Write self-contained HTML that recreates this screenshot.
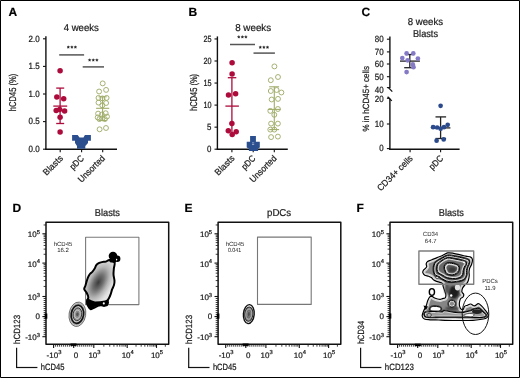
<!DOCTYPE html><html><head><meta charset="utf-8"><title>Figure</title><style>html,body{margin:0;padding:0;background:#fff;overflow:hidden;}svg{display:block;will-change:transform;} text{stroke:#1a1a1a;stroke-width:0.22px;}</style></head><body>
<svg width="520" height="378" viewBox="0 0 520 378" font-family='"Liberation Sans", sans-serif' text-rendering="geometricPrecision" stroke-linejoin="round">
<rect x="0" y="0" width="520" height="378" fill="#fff"/>
<rect x="0.5" y="0.5" width="519" height="377" fill="none" stroke="#000" stroke-width="1"/>
<text x="8.6" y="15.9" font-size="12" text-anchor="start" font-weight="bold" fill="#000" >A</text>
<text x="188.5" y="16.4" font-size="12" text-anchor="start" font-weight="bold" fill="#000" >B</text>
<text x="361.4" y="16.4" font-size="12" text-anchor="start" font-weight="bold" fill="#000" >C</text>
<text x="12.6" y="211.7" font-size="12" text-anchor="start" font-weight="bold" fill="#000" >D</text>
<text x="184.5" y="211.7" font-size="12" text-anchor="start" font-weight="bold" fill="#000" >E</text>
<text x="356.6" y="211.7" font-size="12" text-anchor="start" font-weight="bold" fill="#000" >F</text>
<text x="63.7" y="31.0" font-size="10" text-anchor="start" font-weight="normal" fill="#1a1a1a" textLength="35.2" lengthAdjust="spacingAndGlyphs" >4 weeks</text>
<line x1="45.9" y1="36.3" x2="45.9" y2="149.79999999999998" stroke="#111" stroke-width="1.4"/>
<line x1="45.199999999999996" y1="149.2" x2="117" y2="149.2" stroke="#111" stroke-width="1.4"/>
<line x1="43" y1="149.2" x2="45.9" y2="149.2" stroke="#111" stroke-width="1.1"/>
<text x="39.7" y="152.0" font-size="9" text-anchor="end" font-weight="normal" fill="#1a1a1a" textLength="11.1" lengthAdjust="spacingAndGlyphs" >0.0</text>
<line x1="43" y1="121.6" x2="45.9" y2="121.6" stroke="#111" stroke-width="1.1"/>
<text x="39.7" y="124.39999999999999" font-size="9" text-anchor="end" font-weight="normal" fill="#1a1a1a" textLength="11.1" lengthAdjust="spacingAndGlyphs" >0.5</text>
<line x1="43" y1="93.99999999999999" x2="45.9" y2="93.99999999999999" stroke="#111" stroke-width="1.1"/>
<text x="39.7" y="96.79999999999998" font-size="9" text-anchor="end" font-weight="normal" fill="#1a1a1a" textLength="11.1" lengthAdjust="spacingAndGlyphs" >1.0</text>
<line x1="43" y1="66.39999999999998" x2="45.9" y2="66.39999999999998" stroke="#111" stroke-width="1.1"/>
<text x="39.7" y="69.19999999999997" font-size="9" text-anchor="end" font-weight="normal" fill="#1a1a1a" textLength="11.1" lengthAdjust="spacingAndGlyphs" >1.5</text>
<line x1="43" y1="38.79999999999998" x2="45.9" y2="38.79999999999998" stroke="#111" stroke-width="1.1"/>
<text x="39.7" y="41.59999999999998" font-size="9" text-anchor="end" font-weight="normal" fill="#1a1a1a" textLength="11.1" lengthAdjust="spacingAndGlyphs" >2.0</text>
<line x1="60.2" y1="149.2" x2="60.2" y2="152.3" stroke="#111" stroke-width="1.1"/>
<line x1="81.6" y1="149.2" x2="81.6" y2="152.3" stroke="#111" stroke-width="1.1"/>
<line x1="102.7" y1="149.2" x2="102.7" y2="152.3" stroke="#111" stroke-width="1.1"/>
<text transform="translate(16.0,92.4) rotate(-90)" font-size="10" text-anchor="middle" fill="#1a1a1a" textLength="37.5" lengthAdjust="spacingAndGlyphs">hCD45 (%)</text>
<text transform="translate(63.5,159.0) rotate(-45)" font-size="9" text-anchor="end" fill="#1a1a1a" textLength="24" lengthAdjust="spacingAndGlyphs">Blasts</text>
<text transform="translate(84.5,159.0) rotate(-45)" font-size="9" text-anchor="end" fill="#1a1a1a" textLength="16" lengthAdjust="spacingAndGlyphs">pDC</text>
<text transform="translate(105.5,159.0) rotate(-45)" font-size="9" text-anchor="end" fill="#1a1a1a" textLength="34" lengthAdjust="spacingAndGlyphs">Unsorted</text>
<line x1="59.2" y1="54.9" x2="84.1" y2="54.9" stroke="#555" stroke-width="1.5"/>
<line x1="82.7" y1="66.9" x2="104" y2="66.9" stroke="#555" stroke-width="1.5"/>
<polygon points="68.30,45.75 68.71,46.58 69.63,46.72 68.97,47.37 69.12,48.28 68.30,47.85 67.48,48.28 67.63,47.37 66.97,46.72 67.89,46.58" fill="#1a1a1a" stroke="#1a1a1a" stroke-width="0.35" stroke-linejoin="round"/>
<polygon points="71.90,45.75 72.31,46.58 73.23,46.72 72.57,47.37 72.72,48.28 71.90,47.85 71.08,48.28 71.23,47.37 70.57,46.72 71.49,46.58" fill="#1a1a1a" stroke="#1a1a1a" stroke-width="0.35" stroke-linejoin="round"/>
<polygon points="75.40,45.75 75.81,46.58 76.73,46.72 76.07,47.37 76.22,48.28 75.40,47.85 74.58,48.28 74.73,47.37 74.07,46.72 74.99,46.58" fill="#1a1a1a" stroke="#1a1a1a" stroke-width="0.35" stroke-linejoin="round"/>
<polygon points="89.60,58.65 90.01,59.48 90.93,59.62 90.27,60.27 90.42,61.18 89.60,60.75 88.78,61.18 88.93,60.27 88.27,59.62 89.19,59.48" fill="#1a1a1a" stroke="#1a1a1a" stroke-width="0.35" stroke-linejoin="round"/>
<polygon points="93.30,58.65 93.71,59.48 94.63,59.62 93.97,60.27 94.12,61.18 93.30,60.75 92.48,61.18 92.63,60.27 91.97,59.62 92.89,59.48" fill="#1a1a1a" stroke="#1a1a1a" stroke-width="0.35" stroke-linejoin="round"/>
<polygon points="96.90,58.65 97.31,59.48 98.23,59.62 97.57,60.27 97.72,61.18 96.90,60.75 96.08,61.18 96.23,60.27 95.57,59.62 96.49,59.48" fill="#1a1a1a" stroke="#1a1a1a" stroke-width="0.35" stroke-linejoin="round"/>
<line x1="60.1" y1="88.1" x2="60.1" y2="123.5" stroke="#ad0b3b" stroke-width="1.3"/>
<line x1="56.2" y1="88.1" x2="64.2" y2="88.1" stroke="#ad0b3b" stroke-width="1.3"/>
<line x1="56.2" y1="123.5" x2="64.2" y2="123.5" stroke="#ad0b3b" stroke-width="1.3"/>
<line x1="53.3" y1="106.1" x2="67.2" y2="106.1" stroke="#ad0b3b" stroke-width="1.3"/>
<circle cx="60.1" cy="70.8" r="2.75" fill="#ad0b3b"/>
<circle cx="56.8" cy="96.9" r="2.75" fill="#ad0b3b"/>
<circle cx="63.7" cy="98.8" r="2.75" fill="#ad0b3b"/>
<circle cx="56.2" cy="110.6" r="2.75" fill="#ad0b3b"/>
<circle cx="59.7" cy="109.4" r="2.75" fill="#ad0b3b"/>
<circle cx="64.6" cy="111" r="2.75" fill="#ad0b3b"/>
<circle cx="60.1" cy="117.2" r="2.75" fill="#ad0b3b"/>
<circle cx="60.1" cy="132.1" r="2.75" fill="#ad0b3b"/>
<path d="M72.1,134.9 L77.7,134.9 L79.5,137.6 L83.5,137.6 L84.9,134.9 L90.9,134.9 L90.9,140.7 L88,140.7 L88,143 L85.3,146 L85.3,148.8 L77,148.8 L77,146 L75,143 L75,140.7 L72.1,140.7 Z" fill="#2b4e8e"/>
<line x1="102.6" y1="96.8" x2="102.6" y2="120.5" stroke="#a0ad6a" stroke-width="1.1"/>
<line x1="98.5" y1="96.8" x2="106.7" y2="96.8" stroke="#a0ad6a" stroke-width="1.1"/>
<line x1="98.5" y1="120.5" x2="106.7" y2="120.5" stroke="#a0ad6a" stroke-width="1.1"/>
<line x1="96.1" y1="108.3" x2="109.2" y2="108.3" stroke="#a0ad6a" stroke-width="1.1"/>
<circle cx="102.7" cy="83.4" r="2.45" fill="none" stroke="#a0ad6a" stroke-width="0.95"/>
<circle cx="106.1" cy="89.9" r="2.45" fill="none" stroke="#a0ad6a" stroke-width="0.95"/>
<circle cx="99.1" cy="91.5" r="2.45" fill="none" stroke="#a0ad6a" stroke-width="0.95"/>
<circle cx="98.5" cy="97.9" r="2.45" fill="none" stroke="#a0ad6a" stroke-width="0.95"/>
<circle cx="102.4" cy="98.4" r="2.45" fill="none" stroke="#a0ad6a" stroke-width="0.95"/>
<circle cx="106.6" cy="97.9" r="2.45" fill="none" stroke="#a0ad6a" stroke-width="0.95"/>
<circle cx="98.5" cy="102.6" r="2.45" fill="none" stroke="#a0ad6a" stroke-width="0.95"/>
<circle cx="106.1" cy="103" r="2.45" fill="none" stroke="#a0ad6a" stroke-width="0.95"/>
<circle cx="102.3" cy="105.4" r="2.45" fill="none" stroke="#a0ad6a" stroke-width="0.95"/>
<circle cx="98.1" cy="113.6" r="2.45" fill="none" stroke="#a0ad6a" stroke-width="0.95"/>
<circle cx="101.9" cy="114.5" r="2.45" fill="none" stroke="#a0ad6a" stroke-width="0.95"/>
<circle cx="105.7" cy="113.2" r="2.45" fill="none" stroke="#a0ad6a" stroke-width="0.95"/>
<circle cx="97.7" cy="117.4" r="2.45" fill="none" stroke="#a0ad6a" stroke-width="0.95"/>
<circle cx="107" cy="116.6" r="2.45" fill="none" stroke="#a0ad6a" stroke-width="0.95"/>
<circle cx="102.3" cy="118.3" r="2.45" fill="none" stroke="#a0ad6a" stroke-width="0.95"/>
<circle cx="99.4" cy="119.1" r="2.45" fill="none" stroke="#a0ad6a" stroke-width="0.95"/>
<circle cx="104.9" cy="119.1" r="2.45" fill="none" stroke="#a0ad6a" stroke-width="0.95"/>
<circle cx="99.6" cy="129.3" r="2.45" fill="none" stroke="#a0ad6a" stroke-width="0.95"/>
<circle cx="106" cy="128" r="2.45" fill="none" stroke="#a0ad6a" stroke-width="0.95"/>
<text x="235.2" y="30.9" font-size="10" text-anchor="start" font-weight="normal" fill="#1a1a1a" textLength="36.0" lengthAdjust="spacingAndGlyphs" >8 weeks</text>
<line x1="217.4" y1="36.4" x2="217.4" y2="149.79999999999998" stroke="#111" stroke-width="1.4"/>
<line x1="216.70000000000002" y1="149.2" x2="287.8" y2="149.2" stroke="#111" stroke-width="1.4"/>
<line x1="214.5" y1="149.2" x2="217.4" y2="149.2" stroke="#111" stroke-width="1.1"/>
<text x="211.5" y="152.0" font-size="9" text-anchor="end" font-weight="normal" fill="#1a1a1a" textLength="4.4" lengthAdjust="spacingAndGlyphs" >0</text>
<line x1="214.5" y1="127.14999999999999" x2="217.4" y2="127.14999999999999" stroke="#111" stroke-width="1.1"/>
<text x="211.5" y="129.95" font-size="9" text-anchor="end" font-weight="normal" fill="#1a1a1a" textLength="4.4" lengthAdjust="spacingAndGlyphs" >5</text>
<line x1="214.5" y1="105.1" x2="217.4" y2="105.1" stroke="#111" stroke-width="1.1"/>
<text x="211.5" y="107.89999999999999" font-size="9" text-anchor="end" font-weight="normal" fill="#1a1a1a" textLength="8.1" lengthAdjust="spacingAndGlyphs" >10</text>
<line x1="214.5" y1="83.04999999999998" x2="217.4" y2="83.04999999999998" stroke="#111" stroke-width="1.1"/>
<text x="211.5" y="85.84999999999998" font-size="9" text-anchor="end" font-weight="normal" fill="#1a1a1a" textLength="8.1" lengthAdjust="spacingAndGlyphs" >15</text>
<line x1="214.5" y1="60.999999999999986" x2="217.4" y2="60.999999999999986" stroke="#111" stroke-width="1.1"/>
<text x="211.5" y="63.79999999999998" font-size="9" text-anchor="end" font-weight="normal" fill="#1a1a1a" textLength="8.1" lengthAdjust="spacingAndGlyphs" >20</text>
<line x1="214.5" y1="38.94999999999999" x2="217.4" y2="38.94999999999999" stroke="#111" stroke-width="1.1"/>
<text x="211.5" y="41.749999999999986" font-size="9" text-anchor="end" font-weight="normal" fill="#1a1a1a" textLength="8.1" lengthAdjust="spacingAndGlyphs" >25</text>
<line x1="231.9" y1="149.2" x2="231.9" y2="152.3" stroke="#111" stroke-width="1.1"/>
<line x1="253.2" y1="149.2" x2="253.2" y2="152.3" stroke="#111" stroke-width="1.1"/>
<line x1="274.3" y1="149.2" x2="274.3" y2="152.3" stroke="#111" stroke-width="1.1"/>
<text transform="translate(197.2,92.4) rotate(-90)" font-size="10" text-anchor="middle" fill="#1a1a1a" textLength="37.0" lengthAdjust="spacingAndGlyphs">hCD45 (%)</text>
<text transform="translate(235.2,159.0) rotate(-45)" font-size="9" text-anchor="end" fill="#1a1a1a" textLength="24" lengthAdjust="spacingAndGlyphs">Blasts</text>
<text transform="translate(256.2,159.0) rotate(-45)" font-size="9" text-anchor="end" fill="#1a1a1a" textLength="16" lengthAdjust="spacingAndGlyphs">pDC</text>
<text transform="translate(277.2,159.0) rotate(-45)" font-size="9" text-anchor="end" fill="#1a1a1a" textLength="34" lengthAdjust="spacingAndGlyphs">Unsorted</text>
<line x1="230" y1="44.5" x2="255" y2="44.5" stroke="#555" stroke-width="1.5"/>
<line x1="253.5" y1="53.1" x2="274.9" y2="53.1" stroke="#555" stroke-width="1.5"/>
<polygon points="238.80,35.55 239.21,36.38 240.13,36.52 239.47,37.17 239.62,38.08 238.80,37.65 237.98,38.08 238.13,37.17 237.47,36.52 238.39,36.38" fill="#1a1a1a" stroke="#1a1a1a" stroke-width="0.35" stroke-linejoin="round"/>
<polygon points="242.40,35.55 242.81,36.38 243.73,36.52 243.07,37.17 243.22,38.08 242.40,37.65 241.58,38.08 241.73,37.17 241.07,36.52 241.99,36.38" fill="#1a1a1a" stroke="#1a1a1a" stroke-width="0.35" stroke-linejoin="round"/>
<polygon points="245.90,35.55 246.31,36.38 247.23,36.52 246.57,37.17 246.72,38.08 245.90,37.65 245.08,38.08 245.23,37.17 244.57,36.52 245.49,36.38" fill="#1a1a1a" stroke="#1a1a1a" stroke-width="0.35" stroke-linejoin="round"/>
<polygon points="260.30,45.85 260.71,46.68 261.63,46.82 260.97,47.47 261.12,48.38 260.30,47.95 259.48,48.38 259.63,47.47 258.97,46.82 259.89,46.68" fill="#1a1a1a" stroke="#1a1a1a" stroke-width="0.35" stroke-linejoin="round"/>
<polygon points="263.90,45.85 264.31,46.68 265.23,46.82 264.57,47.47 264.72,48.38 263.90,47.95 263.08,48.38 263.23,47.47 262.57,46.82 263.49,46.68" fill="#1a1a1a" stroke="#1a1a1a" stroke-width="0.35" stroke-linejoin="round"/>
<polygon points="267.50,45.85 267.91,46.68 268.83,46.82 268.17,47.47 268.32,48.38 267.50,47.95 266.68,48.38 266.83,47.47 266.17,46.82 267.09,46.68" fill="#1a1a1a" stroke="#1a1a1a" stroke-width="0.35" stroke-linejoin="round"/>
<line x1="231.9" y1="77.7" x2="231.9" y2="134.5" stroke="#ad0b3b" stroke-width="1.3"/>
<line x1="227.8" y1="77.7" x2="236.3" y2="77.7" stroke="#ad0b3b" stroke-width="1.3"/>
<line x1="225.4" y1="106.1" x2="238.9" y2="106.1" stroke="#ad0b3b" stroke-width="1.3"/>
<circle cx="232.1" cy="62.8" r="2.75" fill="#ad0b3b"/>
<circle cx="232.1" cy="73.9" r="2.75" fill="#ad0b3b"/>
<circle cx="228.5" cy="95" r="2.75" fill="#ad0b3b"/>
<circle cx="235.6" cy="93.8" r="2.75" fill="#ad0b3b"/>
<circle cx="231.9" cy="123.6" r="2.75" fill="#ad0b3b"/>
<circle cx="228.3" cy="130.7" r="2.75" fill="#ad0b3b"/>
<circle cx="236.2" cy="131.8" r="2.75" fill="#ad0b3b"/>
<circle cx="232.2" cy="134.4" r="2.75" fill="#ad0b3b"/>
<path d="M250.1,136 L255.9,136 L255.9,141.8 L259.8,141.8 L259.8,147.6 L258.1,148.6 L258.1,150.9 L248.9,150.9 L248.9,148.6 L246.7,147.6 L246.7,141.8 L250.1,141.8 Z" fill="#2b4e8e"/>
<line x1="252" y1="142.9" x2="254.2" y2="142.9" stroke="#b8c4dc" stroke-width="0.7"/>
<line x1="252" y1="144.5" x2="254.2" y2="144.5" stroke="#b8c4dc" stroke-width="0.7"/>
<line x1="274.3" y1="86.8" x2="274.3" y2="129.6" stroke="#a0ad6a" stroke-width="1.1"/>
<line x1="269.2" y1="86.8" x2="279.1" y2="86.8" stroke="#a0ad6a" stroke-width="1.1"/>
<line x1="269.2" y1="129.6" x2="279.1" y2="129.6" stroke="#a0ad6a" stroke-width="1.1"/>
<line x1="267.9" y1="109.4" x2="280.6" y2="109.4" stroke="#a0ad6a" stroke-width="1.1"/>
<circle cx="274.4" cy="66.4" r="2.45" fill="none" stroke="#a0ad6a" stroke-width="0.95"/>
<circle cx="270.8" cy="80.2" r="2.45" fill="none" stroke="#a0ad6a" stroke-width="0.95"/>
<circle cx="278" cy="77" r="2.45" fill="none" stroke="#a0ad6a" stroke-width="0.95"/>
<circle cx="270.8" cy="91" r="2.45" fill="none" stroke="#a0ad6a" stroke-width="0.95"/>
<circle cx="276.6" cy="90" r="2.45" fill="none" stroke="#a0ad6a" stroke-width="0.95"/>
<circle cx="281.4" cy="92.5" r="2.45" fill="none" stroke="#a0ad6a" stroke-width="0.95"/>
<circle cx="271.7" cy="99.5" r="2.45" fill="none" stroke="#a0ad6a" stroke-width="0.95"/>
<circle cx="278" cy="98.9" r="2.45" fill="none" stroke="#a0ad6a" stroke-width="0.95"/>
<circle cx="270.3" cy="110.9" r="2.45" fill="none" stroke="#a0ad6a" stroke-width="0.95"/>
<circle cx="277.9" cy="109" r="2.45" fill="none" stroke="#a0ad6a" stroke-width="0.95"/>
<circle cx="274.3" cy="114.8" r="2.45" fill="none" stroke="#a0ad6a" stroke-width="0.95"/>
<circle cx="271.1" cy="123.6" r="2.45" fill="none" stroke="#a0ad6a" stroke-width="0.95"/>
<circle cx="277.9" cy="123.6" r="2.45" fill="none" stroke="#a0ad6a" stroke-width="0.95"/>
<circle cx="270.3" cy="129.6" r="2.45" fill="none" stroke="#a0ad6a" stroke-width="0.95"/>
<circle cx="274.3" cy="129.6" r="2.45" fill="none" stroke="#a0ad6a" stroke-width="0.95"/>
<circle cx="271.1" cy="137.1" r="2.45" fill="none" stroke="#a0ad6a" stroke-width="0.95"/>
<circle cx="277.9" cy="136.6" r="2.45" fill="none" stroke="#a0ad6a" stroke-width="0.95"/>
<text x="425.4" y="24.5" font-size="10" text-anchor="middle" font-weight="normal" fill="#1a1a1a" textLength="35.3" lengthAdjust="spacingAndGlyphs" >8 weeks</text>
<text x="425.5" y="36.6" font-size="10" text-anchor="middle" font-weight="normal" fill="#1a1a1a" textLength="25" lengthAdjust="spacingAndGlyphs" >Blasts</text>
<line x1="389.9" y1="36.4" x2="389.9" y2="88.2" stroke="#111" stroke-width="1.4"/>
<line x1="388.4" y1="87.6" x2="392.3" y2="91.6" stroke="#111" stroke-width="1.3"/>
<line x1="387.6" y1="96.7" x2="391.8" y2="100.9" stroke="#111" stroke-width="1.3"/>
<line x1="389.9" y1="98.6" x2="389.9" y2="149.79999999999998" stroke="#111" stroke-width="1.4"/>
<line x1="389.2" y1="149.2" x2="459.6" y2="149.2" stroke="#111" stroke-width="1.4"/>
<line x1="386.9" y1="39.2" x2="389.9" y2="39.2" stroke="#111" stroke-width="1.1"/>
<text x="383.7" y="42.0" font-size="9" text-anchor="end" font-weight="normal" fill="#1a1a1a" textLength="8.9" lengthAdjust="spacingAndGlyphs" >80</text>
<line x1="386.9" y1="51.9" x2="389.9" y2="51.9" stroke="#111" stroke-width="1.1"/>
<text x="383.7" y="54.7" font-size="9" text-anchor="end" font-weight="normal" fill="#1a1a1a" textLength="8.9" lengthAdjust="spacingAndGlyphs" >70</text>
<line x1="386.9" y1="64.0" x2="389.9" y2="64.0" stroke="#111" stroke-width="1.1"/>
<text x="383.7" y="66.8" font-size="9" text-anchor="end" font-weight="normal" fill="#1a1a1a" textLength="8.9" lengthAdjust="spacingAndGlyphs" >60</text>
<line x1="386.9" y1="76.7" x2="389.9" y2="76.7" stroke="#111" stroke-width="1.1"/>
<text x="383.7" y="79.5" font-size="9" text-anchor="end" font-weight="normal" fill="#1a1a1a" textLength="8.9" lengthAdjust="spacingAndGlyphs" >50</text>
<line x1="386.9" y1="87.6" x2="389.9" y2="87.6" stroke="#111" stroke-width="1.1"/>
<text x="383.7" y="92.6" font-size="9" text-anchor="end" font-weight="normal" fill="#1a1a1a" textLength="8.9" lengthAdjust="spacingAndGlyphs" >40</text>
<line x1="386.9" y1="98.3" x2="389.9" y2="98.3" stroke="#111" stroke-width="1.1"/>
<text x="383.7" y="102.0" font-size="9" text-anchor="end" font-weight="normal" fill="#1a1a1a" textLength="8.9" lengthAdjust="spacingAndGlyphs" >20</text>
<line x1="386.9" y1="124.0" x2="389.9" y2="124.0" stroke="#111" stroke-width="1.1"/>
<text x="383.7" y="126.8" font-size="9" text-anchor="end" font-weight="normal" fill="#1a1a1a" textLength="8.9" lengthAdjust="spacingAndGlyphs" >10</text>
<line x1="386.9" y1="148.6" x2="389.9" y2="148.6" stroke="#111" stroke-width="1.1"/>
<text x="383.7" y="151.4" font-size="9" text-anchor="end" font-weight="normal" fill="#1a1a1a" textLength="4.4" lengthAdjust="spacingAndGlyphs" >0</text>
<line x1="410.1" y1="149.2" x2="410.1" y2="152.3" stroke="#111" stroke-width="1.1"/>
<line x1="440.6" y1="149.2" x2="440.6" y2="152.3" stroke="#111" stroke-width="1.1"/>
<text transform="translate(369.2,98.7) rotate(-90)" font-size="9" text-anchor="middle" fill="#1a1a1a" textLength="65.5" lengthAdjust="spacingAndGlyphs">% in hCD45+ cells</text>
<text transform="translate(413.3,159.0) rotate(-45)" font-size="9" text-anchor="end" fill="#1a1a1a" textLength="46" lengthAdjust="spacingAndGlyphs">CD34+ cells</text>
<text transform="translate(443.8,159.0) rotate(-45)" font-size="9" text-anchor="end" fill="#1a1a1a" textLength="16" lengthAdjust="spacingAndGlyphs">pDC</text>
<line x1="409.8" y1="54.5" x2="409.8" y2="67.7" stroke="#222" stroke-width="1.3"/>
<line x1="405.5" y1="54.5" x2="414.0" y2="54.5" stroke="#222" stroke-width="1.3"/>
<line x1="404.2" y1="67.7" x2="414.4" y2="67.7" stroke="#222" stroke-width="1.3"/>
<line x1="400.0" y1="61.1" x2="419.9" y2="61.1" stroke="#222" stroke-width="1.3"/>
<circle cx="406.6" cy="53.4" r="2.35" fill="#857ac6"/>
<circle cx="413.3" cy="53.4" r="2.35" fill="#857ac6"/>
<circle cx="402.3" cy="58.1" r="2.35" fill="#857ac6"/>
<circle cx="417.9" cy="58.6" r="2.35" fill="#857ac6"/>
<circle cx="407.6" cy="60.3" r="2.35" fill="#857ac6"/>
<circle cx="412.8" cy="64.4" r="2.35" fill="#857ac6"/>
<circle cx="413.5" cy="67.2" r="2.35" fill="#857ac6"/>
<circle cx="406.6" cy="72.1" r="2.35" fill="#857ac6"/>
<line x1="440.6" y1="116.9" x2="440.6" y2="138.5" stroke="#222" stroke-width="1.3"/>
<line x1="435.5" y1="116.9" x2="446.1" y2="116.9" stroke="#222" stroke-width="1.3"/>
<line x1="435.5" y1="138.5" x2="446.1" y2="138.5" stroke="#222" stroke-width="1.3"/>
<line x1="431.8" y1="127.9" x2="450.4" y2="127.9" stroke="#222" stroke-width="1.3"/>
<circle cx="440.6" cy="105.8" r="2.35" fill="#2a4a8c"/>
<circle cx="433.1" cy="127.2" r="2.35" fill="#2a4a8c"/>
<circle cx="437.1" cy="127.5" r="2.35" fill="#2a4a8c"/>
<circle cx="440.6" cy="128.7" r="2.35" fill="#2a4a8c"/>
<circle cx="444" cy="127.2" r="2.35" fill="#2a4a8c"/>
<circle cx="447.7" cy="124.8" r="2.35" fill="#2a4a8c"/>
<circle cx="436.6" cy="140.7" r="2.35" fill="#2a4a8c"/>
<circle cx="443.7" cy="139.4" r="2.35" fill="#2a4a8c"/>
<rect x="46.0" y="222.2" width="122.7" height="122.10000000000002" fill="none" stroke="#111" stroke-width="1.5"/>
<text x="107.4" y="216.4" font-size="10" text-anchor="middle" font-weight="normal" fill="#1a1a1a" textLength="25.2" lengthAdjust="spacingAndGlyphs" >Blasts</text>
<line x1="55.61" y1="344.3" x2="55.61" y2="346.7" stroke="#1a1a1a" stroke-width="0.85"/>
<line x1="43.6" y1="334.69" x2="46.0" y2="334.69" stroke="#1a1a1a" stroke-width="0.85"/>
<line x1="57.620000000000005" y1="344.3" x2="57.620000000000005" y2="346.7" stroke="#1a1a1a" stroke-width="0.85"/>
<line x1="43.6" y1="332.68" x2="46.0" y2="332.68" stroke="#1a1a1a" stroke-width="0.85"/>
<line x1="59.629999999999995" y1="344.3" x2="59.629999999999995" y2="346.7" stroke="#1a1a1a" stroke-width="0.85"/>
<line x1="43.6" y1="330.67" x2="46.0" y2="330.67" stroke="#1a1a1a" stroke-width="0.85"/>
<line x1="61.64" y1="344.3" x2="61.64" y2="346.7" stroke="#1a1a1a" stroke-width="0.85"/>
<line x1="43.6" y1="328.66" x2="46.0" y2="328.66" stroke="#1a1a1a" stroke-width="0.85"/>
<line x1="63.65" y1="344.3" x2="63.65" y2="346.7" stroke="#1a1a1a" stroke-width="0.85"/>
<line x1="43.6" y1="326.65000000000003" x2="46.0" y2="326.65000000000003" stroke="#1a1a1a" stroke-width="0.85"/>
<line x1="65.66" y1="344.3" x2="65.66" y2="346.7" stroke="#1a1a1a" stroke-width="0.85"/>
<line x1="43.6" y1="324.64" x2="46.0" y2="324.64" stroke="#1a1a1a" stroke-width="0.85"/>
<line x1="67.67" y1="344.3" x2="67.67" y2="346.7" stroke="#1a1a1a" stroke-width="0.85"/>
<line x1="43.6" y1="322.63" x2="46.0" y2="322.63" stroke="#1a1a1a" stroke-width="0.85"/>
<line x1="69.68" y1="344.3" x2="69.68" y2="346.7" stroke="#1a1a1a" stroke-width="0.85"/>
<line x1="43.6" y1="320.62" x2="46.0" y2="320.62" stroke="#1a1a1a" stroke-width="0.85"/>
<line x1="71.69" y1="344.3" x2="71.69" y2="346.7" stroke="#1a1a1a" stroke-width="0.85"/>
<line x1="43.6" y1="318.61" x2="46.0" y2="318.61" stroke="#1a1a1a" stroke-width="0.85"/>
<line x1="73.7" y1="344.3" x2="73.7" y2="346.7" stroke="#1a1a1a" stroke-width="0.85"/>
<line x1="43.6" y1="316.6" x2="46.0" y2="316.6" stroke="#1a1a1a" stroke-width="0.85"/>
<line x1="75.71000000000001" y1="344.3" x2="75.71000000000001" y2="346.7" stroke="#1a1a1a" stroke-width="0.85"/>
<line x1="43.6" y1="314.59000000000003" x2="46.0" y2="314.59000000000003" stroke="#1a1a1a" stroke-width="0.85"/>
<line x1="77.72" y1="344.3" x2="77.72" y2="346.7" stroke="#1a1a1a" stroke-width="0.85"/>
<line x1="43.6" y1="312.58000000000004" x2="46.0" y2="312.58000000000004" stroke="#1a1a1a" stroke-width="0.85"/>
<line x1="79.72999999999999" y1="344.3" x2="79.72999999999999" y2="346.7" stroke="#1a1a1a" stroke-width="0.85"/>
<line x1="43.6" y1="310.57" x2="46.0" y2="310.57" stroke="#1a1a1a" stroke-width="0.85"/>
<line x1="81.74" y1="344.3" x2="81.74" y2="346.7" stroke="#1a1a1a" stroke-width="0.85"/>
<line x1="43.6" y1="308.56" x2="46.0" y2="308.56" stroke="#1a1a1a" stroke-width="0.85"/>
<line x1="83.75" y1="344.3" x2="83.75" y2="346.7" stroke="#1a1a1a" stroke-width="0.85"/>
<line x1="43.6" y1="306.55" x2="46.0" y2="306.55" stroke="#1a1a1a" stroke-width="0.85"/>
<line x1="85.75999999999999" y1="344.3" x2="85.75999999999999" y2="346.7" stroke="#1a1a1a" stroke-width="0.85"/>
<line x1="43.6" y1="304.54" x2="46.0" y2="304.54" stroke="#1a1a1a" stroke-width="0.85"/>
<line x1="87.77" y1="344.3" x2="87.77" y2="346.7" stroke="#1a1a1a" stroke-width="0.85"/>
<line x1="43.6" y1="302.53000000000003" x2="46.0" y2="302.53000000000003" stroke="#1a1a1a" stroke-width="0.85"/>
<line x1="89.78" y1="344.3" x2="89.78" y2="346.7" stroke="#1a1a1a" stroke-width="0.85"/>
<line x1="43.6" y1="300.52" x2="46.0" y2="300.52" stroke="#1a1a1a" stroke-width="0.85"/>
<line x1="91.78999999999999" y1="344.3" x2="91.78999999999999" y2="346.7" stroke="#1a1a1a" stroke-width="0.85"/>
<line x1="43.6" y1="298.51" x2="46.0" y2="298.51" stroke="#1a1a1a" stroke-width="0.85"/>
<line x1="103.85440185517697" y1="344.3" x2="103.85440185517697" y2="346.7" stroke="#1a1a1a" stroke-width="0.85"/>
<line x1="43.6" y1="286.44559814482307" x2="46.0" y2="286.44559814482307" stroke="#1a1a1a" stroke-width="0.85"/>
<line x1="109.73584990763672" y1="344.3" x2="109.73584990763672" y2="346.7" stroke="#1a1a1a" stroke-width="0.85"/>
<line x1="43.6" y1="280.5641500923633" x2="46.0" y2="280.5641500923633" stroke="#1a1a1a" stroke-width="0.85"/>
<line x1="113.90880371035394" y1="344.3" x2="113.90880371035394" y2="346.7" stroke="#1a1a1a" stroke-width="0.85"/>
<line x1="43.6" y1="276.3911962896461" x2="46.0" y2="276.3911962896461" stroke="#1a1a1a" stroke-width="0.85"/>
<line x1="117.14559814482303" y1="344.3" x2="117.14559814482303" y2="346.7" stroke="#1a1a1a" stroke-width="0.85"/>
<line x1="43.6" y1="273.15440185517696" x2="46.0" y2="273.15440185517696" stroke="#1a1a1a" stroke-width="0.85"/>
<line x1="119.7902517628137" y1="344.3" x2="119.7902517628137" y2="346.7" stroke="#1a1a1a" stroke-width="0.85"/>
<line x1="43.6" y1="270.50974823718633" x2="46.0" y2="270.50974823718633" stroke="#1a1a1a" stroke-width="0.85"/>
<line x1="122.02627453647617" y1="344.3" x2="122.02627453647617" y2="346.7" stroke="#1a1a1a" stroke-width="0.85"/>
<line x1="43.6" y1="268.2737254635239" x2="46.0" y2="268.2737254635239" stroke="#1a1a1a" stroke-width="0.85"/>
<line x1="123.96320556553091" y1="344.3" x2="123.96320556553091" y2="346.7" stroke="#1a1a1a" stroke-width="0.85"/>
<line x1="43.6" y1="266.3367944344691" x2="46.0" y2="266.3367944344691" stroke="#1a1a1a" stroke-width="0.85"/>
<line x1="125.67169981527344" y1="344.3" x2="125.67169981527344" y2="346.7" stroke="#1a1a1a" stroke-width="0.85"/>
<line x1="43.6" y1="264.6283001847266" x2="46.0" y2="264.6283001847266" stroke="#1a1a1a" stroke-width="0.85"/>
<line x1="136.02017887295466" y1="344.3" x2="136.02017887295466" y2="346.7" stroke="#1a1a1a" stroke-width="0.85"/>
<line x1="43.6" y1="254.27982112704535" x2="46.0" y2="254.27982112704535" stroke="#1a1a1a" stroke-width="0.85"/>
<line x1="141.17965276328613" y1="344.3" x2="141.17965276328613" y2="346.7" stroke="#1a1a1a" stroke-width="0.85"/>
<line x1="43.6" y1="249.12034723671388" x2="46.0" y2="249.12034723671388" stroke="#1a1a1a" stroke-width="0.85"/>
<line x1="144.8403577459093" y1="344.3" x2="144.8403577459093" y2="346.7" stroke="#1a1a1a" stroke-width="0.85"/>
<line x1="43.6" y1="245.4596422540907" x2="46.0" y2="245.4596422540907" stroke="#1a1a1a" stroke-width="0.85"/>
<line x1="147.67982112704536" y1="344.3" x2="147.67982112704536" y2="346.7" stroke="#1a1a1a" stroke-width="0.85"/>
<line x1="43.6" y1="242.62017887295465" x2="46.0" y2="242.62017887295465" stroke="#1a1a1a" stroke-width="0.85"/>
<line x1="149.99983163624077" y1="344.3" x2="149.99983163624077" y2="346.7" stroke="#1a1a1a" stroke-width="0.85"/>
<line x1="43.6" y1="240.30016836375924" x2="46.0" y2="240.30016836375924" stroke="#1a1a1a" stroke-width="0.85"/>
<line x1="151.96137257241773" y1="344.3" x2="151.96137257241773" y2="346.7" stroke="#1a1a1a" stroke-width="0.85"/>
<line x1="43.6" y1="238.33862742758228" x2="46.0" y2="238.33862742758228" stroke="#1a1a1a" stroke-width="0.85"/>
<line x1="153.66053661886394" y1="344.3" x2="153.66053661886394" y2="346.7" stroke="#1a1a1a" stroke-width="0.85"/>
<line x1="43.6" y1="236.63946338113607" x2="46.0" y2="236.63946338113607" stroke="#1a1a1a" stroke-width="0.85"/>
<line x1="155.1593055265722" y1="344.3" x2="155.1593055265722" y2="346.7" stroke="#1a1a1a" stroke-width="0.85"/>
<line x1="43.6" y1="235.1406944734278" x2="46.0" y2="235.1406944734278" stroke="#1a1a1a" stroke-width="0.85"/>
<line x1="165.32017887295467" y1="344.3" x2="165.32017887295467" y2="346.7" stroke="#1a1a1a" stroke-width="0.85"/>
<line x1="43.6" y1="224.97982112704534" x2="46.0" y2="224.97982112704534" stroke="#1a1a1a" stroke-width="0.85"/>
<line x1="53.599999999999994" y1="344.3" x2="53.599999999999994" y2="347.90000000000003" stroke="#111" stroke-width="1.1"/>
<line x1="42.4" y1="336.7" x2="46.0" y2="336.7" stroke="#111" stroke-width="1.1"/>
<text x="54.0" y="357.7" font-size="8" text-anchor="middle" font-weight="normal" fill="#1a1a1a" >-10<tspan dy="-3.3" font-size="5.8">3</tspan></text>
<text x="40.0" y="340.3" font-size="8" text-anchor="end" font-weight="normal" fill="#1a1a1a" >-10<tspan dy="-3.3" font-size="5.8">3</tspan></text>
<line x1="73.7" y1="344.3" x2="73.7" y2="347.90000000000003" stroke="#111" stroke-width="1.1"/>
<line x1="42.4" y1="316.6" x2="46.0" y2="316.6" stroke="#111" stroke-width="1.1"/>
<text x="76.1" y="357.7" font-size="8" text-anchor="middle" font-weight="normal" fill="#1a1a1a" >0</text>
<text x="40.0" y="318.90000000000003" font-size="8" text-anchor="end" font-weight="normal" fill="#1a1a1a" >0</text>
<line x1="93.8" y1="344.3" x2="93.8" y2="347.90000000000003" stroke="#111" stroke-width="1.1"/>
<line x1="42.4" y1="296.5" x2="46.0" y2="296.5" stroke="#111" stroke-width="1.1"/>
<text x="94.5" y="357.7" font-size="8" text-anchor="middle" font-weight="normal" fill="#1a1a1a" >10<tspan dy="-3.3" font-size="5.8">3</tspan></text>
<text x="40.0" y="300.1" font-size="8" text-anchor="end" font-weight="normal" fill="#1a1a1a" >10<tspan dy="-3.3" font-size="5.8">3</tspan></text>
<line x1="127.19999999999999" y1="344.3" x2="127.19999999999999" y2="347.90000000000003" stroke="#111" stroke-width="1.1"/>
<line x1="42.4" y1="263.1" x2="46.0" y2="263.1" stroke="#111" stroke-width="1.1"/>
<text x="127.7" y="357.7" font-size="8" text-anchor="middle" font-weight="normal" fill="#1a1a1a" >10<tspan dy="-3.3" font-size="5.8">4</tspan></text>
<text x="40.0" y="266.70000000000005" font-size="8" text-anchor="end" font-weight="normal" fill="#1a1a1a" >10<tspan dy="-3.3" font-size="5.8">4</tspan></text>
<line x1="156.5" y1="344.3" x2="156.5" y2="347.90000000000003" stroke="#111" stroke-width="1.1"/>
<line x1="42.4" y1="233.8" x2="46.0" y2="233.8" stroke="#111" stroke-width="1.1"/>
<text x="157.0" y="357.7" font-size="8" text-anchor="middle" font-weight="normal" fill="#1a1a1a" >10<tspan dy="-3.3" font-size="5.8">5</tspan></text>
<text x="40.0" y="237.4" font-size="8" text-anchor="end" font-weight="normal" fill="#1a1a1a" >10<tspan dy="-3.3" font-size="5.8">5</tspan></text>
<line x1="16.6" y1="347.8" x2="16.6" y2="368.1" stroke="#111" stroke-width="1.2"/>
<line x1="16.0" y1="367.5" x2="37.400000000000006" y2="367.5" stroke="#111" stroke-width="1.2"/>
<text x="40.8" y="369.8" font-size="9" text-anchor="start" font-weight="normal" fill="#1a1a1a" textLength="23.6" lengthAdjust="spacingAndGlyphs" >hCD45</text>
<text transform="translate(20.0,344) rotate(-90)" font-size="9" text-anchor="start" fill="#1a1a1a" textLength="29.1" lengthAdjust="spacingAndGlyphs">hCD123</text>
<rect x="218.1" y="222.2" width="122.7" height="122.10000000000002" fill="none" stroke="#111" stroke-width="1.5"/>
<text x="279.1" y="216.4" font-size="10" text-anchor="middle" font-weight="normal" fill="#1a1a1a" textLength="24.2" lengthAdjust="spacingAndGlyphs" >pDCs</text>
<line x1="227.70999999999998" y1="344.3" x2="227.70999999999998" y2="346.7" stroke="#1a1a1a" stroke-width="0.85"/>
<line x1="215.7" y1="334.69" x2="218.1" y2="334.69" stroke="#1a1a1a" stroke-width="0.85"/>
<line x1="229.72" y1="344.3" x2="229.72" y2="346.7" stroke="#1a1a1a" stroke-width="0.85"/>
<line x1="215.7" y1="332.68" x2="218.1" y2="332.68" stroke="#1a1a1a" stroke-width="0.85"/>
<line x1="231.73" y1="344.3" x2="231.73" y2="346.7" stroke="#1a1a1a" stroke-width="0.85"/>
<line x1="215.7" y1="330.67" x2="218.1" y2="330.67" stroke="#1a1a1a" stroke-width="0.85"/>
<line x1="233.73999999999998" y1="344.3" x2="233.73999999999998" y2="346.7" stroke="#1a1a1a" stroke-width="0.85"/>
<line x1="215.7" y1="328.66" x2="218.1" y2="328.66" stroke="#1a1a1a" stroke-width="0.85"/>
<line x1="235.75" y1="344.3" x2="235.75" y2="346.7" stroke="#1a1a1a" stroke-width="0.85"/>
<line x1="215.7" y1="326.65000000000003" x2="218.1" y2="326.65000000000003" stroke="#1a1a1a" stroke-width="0.85"/>
<line x1="237.76" y1="344.3" x2="237.76" y2="346.7" stroke="#1a1a1a" stroke-width="0.85"/>
<line x1="215.7" y1="324.64" x2="218.1" y2="324.64" stroke="#1a1a1a" stroke-width="0.85"/>
<line x1="239.76999999999998" y1="344.3" x2="239.76999999999998" y2="346.7" stroke="#1a1a1a" stroke-width="0.85"/>
<line x1="215.7" y1="322.63" x2="218.1" y2="322.63" stroke="#1a1a1a" stroke-width="0.85"/>
<line x1="241.78" y1="344.3" x2="241.78" y2="346.7" stroke="#1a1a1a" stroke-width="0.85"/>
<line x1="215.7" y1="320.62" x2="218.1" y2="320.62" stroke="#1a1a1a" stroke-width="0.85"/>
<line x1="243.79" y1="344.3" x2="243.79" y2="346.7" stroke="#1a1a1a" stroke-width="0.85"/>
<line x1="215.7" y1="318.61" x2="218.1" y2="318.61" stroke="#1a1a1a" stroke-width="0.85"/>
<line x1="245.79999999999998" y1="344.3" x2="245.79999999999998" y2="346.7" stroke="#1a1a1a" stroke-width="0.85"/>
<line x1="215.7" y1="316.6" x2="218.1" y2="316.6" stroke="#1a1a1a" stroke-width="0.85"/>
<line x1="247.81" y1="344.3" x2="247.81" y2="346.7" stroke="#1a1a1a" stroke-width="0.85"/>
<line x1="215.7" y1="314.59000000000003" x2="218.1" y2="314.59000000000003" stroke="#1a1a1a" stroke-width="0.85"/>
<line x1="249.82" y1="344.3" x2="249.82" y2="346.7" stroke="#1a1a1a" stroke-width="0.85"/>
<line x1="215.7" y1="312.58000000000004" x2="218.1" y2="312.58000000000004" stroke="#1a1a1a" stroke-width="0.85"/>
<line x1="251.82999999999998" y1="344.3" x2="251.82999999999998" y2="346.7" stroke="#1a1a1a" stroke-width="0.85"/>
<line x1="215.7" y1="310.57" x2="218.1" y2="310.57" stroke="#1a1a1a" stroke-width="0.85"/>
<line x1="253.83999999999997" y1="344.3" x2="253.83999999999997" y2="346.7" stroke="#1a1a1a" stroke-width="0.85"/>
<line x1="215.7" y1="308.56" x2="218.1" y2="308.56" stroke="#1a1a1a" stroke-width="0.85"/>
<line x1="255.85" y1="344.3" x2="255.85" y2="346.7" stroke="#1a1a1a" stroke-width="0.85"/>
<line x1="215.7" y1="306.55" x2="218.1" y2="306.55" stroke="#1a1a1a" stroke-width="0.85"/>
<line x1="257.86" y1="344.3" x2="257.86" y2="346.7" stroke="#1a1a1a" stroke-width="0.85"/>
<line x1="215.7" y1="304.54" x2="218.1" y2="304.54" stroke="#1a1a1a" stroke-width="0.85"/>
<line x1="259.87" y1="344.3" x2="259.87" y2="346.7" stroke="#1a1a1a" stroke-width="0.85"/>
<line x1="215.7" y1="302.53000000000003" x2="218.1" y2="302.53000000000003" stroke="#1a1a1a" stroke-width="0.85"/>
<line x1="261.88" y1="344.3" x2="261.88" y2="346.7" stroke="#1a1a1a" stroke-width="0.85"/>
<line x1="215.7" y1="300.52" x2="218.1" y2="300.52" stroke="#1a1a1a" stroke-width="0.85"/>
<line x1="263.89" y1="344.3" x2="263.89" y2="346.7" stroke="#1a1a1a" stroke-width="0.85"/>
<line x1="215.7" y1="298.51" x2="218.1" y2="298.51" stroke="#1a1a1a" stroke-width="0.85"/>
<line x1="275.95440185517697" y1="344.3" x2="275.95440185517697" y2="346.7" stroke="#1a1a1a" stroke-width="0.85"/>
<line x1="215.7" y1="286.44559814482307" x2="218.1" y2="286.44559814482307" stroke="#1a1a1a" stroke-width="0.85"/>
<line x1="281.8358499076367" y1="344.3" x2="281.8358499076367" y2="346.7" stroke="#1a1a1a" stroke-width="0.85"/>
<line x1="215.7" y1="280.5641500923633" x2="218.1" y2="280.5641500923633" stroke="#1a1a1a" stroke-width="0.85"/>
<line x1="286.00880371035396" y1="344.3" x2="286.00880371035396" y2="346.7" stroke="#1a1a1a" stroke-width="0.85"/>
<line x1="215.7" y1="276.3911962896461" x2="218.1" y2="276.3911962896461" stroke="#1a1a1a" stroke-width="0.85"/>
<line x1="289.245598144823" y1="344.3" x2="289.245598144823" y2="346.7" stroke="#1a1a1a" stroke-width="0.85"/>
<line x1="215.7" y1="273.15440185517696" x2="218.1" y2="273.15440185517696" stroke="#1a1a1a" stroke-width="0.85"/>
<line x1="291.8902517628137" y1="344.3" x2="291.8902517628137" y2="346.7" stroke="#1a1a1a" stroke-width="0.85"/>
<line x1="215.7" y1="270.50974823718633" x2="218.1" y2="270.50974823718633" stroke="#1a1a1a" stroke-width="0.85"/>
<line x1="294.12627453647616" y1="344.3" x2="294.12627453647616" y2="346.7" stroke="#1a1a1a" stroke-width="0.85"/>
<line x1="215.7" y1="268.2737254635239" x2="218.1" y2="268.2737254635239" stroke="#1a1a1a" stroke-width="0.85"/>
<line x1="296.0632055655309" y1="344.3" x2="296.0632055655309" y2="346.7" stroke="#1a1a1a" stroke-width="0.85"/>
<line x1="215.7" y1="266.3367944344691" x2="218.1" y2="266.3367944344691" stroke="#1a1a1a" stroke-width="0.85"/>
<line x1="297.77169981527345" y1="344.3" x2="297.77169981527345" y2="346.7" stroke="#1a1a1a" stroke-width="0.85"/>
<line x1="215.7" y1="264.6283001847266" x2="218.1" y2="264.6283001847266" stroke="#1a1a1a" stroke-width="0.85"/>
<line x1="308.1201788729546" y1="344.3" x2="308.1201788729546" y2="346.7" stroke="#1a1a1a" stroke-width="0.85"/>
<line x1="215.7" y1="254.27982112704535" x2="218.1" y2="254.27982112704535" stroke="#1a1a1a" stroke-width="0.85"/>
<line x1="313.2796527632861" y1="344.3" x2="313.2796527632861" y2="346.7" stroke="#1a1a1a" stroke-width="0.85"/>
<line x1="215.7" y1="249.12034723671388" x2="218.1" y2="249.12034723671388" stroke="#1a1a1a" stroke-width="0.85"/>
<line x1="316.9403577459093" y1="344.3" x2="316.9403577459093" y2="346.7" stroke="#1a1a1a" stroke-width="0.85"/>
<line x1="215.7" y1="245.4596422540907" x2="218.1" y2="245.4596422540907" stroke="#1a1a1a" stroke-width="0.85"/>
<line x1="319.77982112704535" y1="344.3" x2="319.77982112704535" y2="346.7" stroke="#1a1a1a" stroke-width="0.85"/>
<line x1="215.7" y1="242.62017887295465" x2="218.1" y2="242.62017887295465" stroke="#1a1a1a" stroke-width="0.85"/>
<line x1="322.09983163624076" y1="344.3" x2="322.09983163624076" y2="346.7" stroke="#1a1a1a" stroke-width="0.85"/>
<line x1="215.7" y1="240.30016836375924" x2="218.1" y2="240.30016836375924" stroke="#1a1a1a" stroke-width="0.85"/>
<line x1="324.0613725724177" y1="344.3" x2="324.0613725724177" y2="346.7" stroke="#1a1a1a" stroke-width="0.85"/>
<line x1="215.7" y1="238.33862742758228" x2="218.1" y2="238.33862742758228" stroke="#1a1a1a" stroke-width="0.85"/>
<line x1="325.76053661886397" y1="344.3" x2="325.76053661886397" y2="346.7" stroke="#1a1a1a" stroke-width="0.85"/>
<line x1="215.7" y1="236.63946338113607" x2="218.1" y2="236.63946338113607" stroke="#1a1a1a" stroke-width="0.85"/>
<line x1="327.25930552657223" y1="344.3" x2="327.25930552657223" y2="346.7" stroke="#1a1a1a" stroke-width="0.85"/>
<line x1="215.7" y1="235.1406944734278" x2="218.1" y2="235.1406944734278" stroke="#1a1a1a" stroke-width="0.85"/>
<line x1="337.42017887295464" y1="344.3" x2="337.42017887295464" y2="346.7" stroke="#1a1a1a" stroke-width="0.85"/>
<line x1="215.7" y1="224.97982112704534" x2="218.1" y2="224.97982112704534" stroke="#1a1a1a" stroke-width="0.85"/>
<line x1="225.7" y1="344.3" x2="225.7" y2="347.90000000000003" stroke="#111" stroke-width="1.1"/>
<line x1="214.5" y1="336.7" x2="218.1" y2="336.7" stroke="#111" stroke-width="1.1"/>
<text x="226.1" y="357.7" font-size="8" text-anchor="middle" font-weight="normal" fill="#1a1a1a" >-10<tspan dy="-3.3" font-size="5.8">3</tspan></text>
<text x="212.1" y="340.3" font-size="8" text-anchor="end" font-weight="normal" fill="#1a1a1a" >-10<tspan dy="-3.3" font-size="5.8">3</tspan></text>
<line x1="245.79999999999998" y1="344.3" x2="245.79999999999998" y2="347.90000000000003" stroke="#111" stroke-width="1.1"/>
<line x1="214.5" y1="316.6" x2="218.1" y2="316.6" stroke="#111" stroke-width="1.1"/>
<text x="248.2" y="357.7" font-size="8" text-anchor="middle" font-weight="normal" fill="#1a1a1a" >0</text>
<text x="212.1" y="318.90000000000003" font-size="8" text-anchor="end" font-weight="normal" fill="#1a1a1a" >0</text>
<line x1="265.9" y1="344.3" x2="265.9" y2="347.90000000000003" stroke="#111" stroke-width="1.1"/>
<line x1="214.5" y1="296.5" x2="218.1" y2="296.5" stroke="#111" stroke-width="1.1"/>
<text x="266.6" y="357.7" font-size="8" text-anchor="middle" font-weight="normal" fill="#1a1a1a" >10<tspan dy="-3.3" font-size="5.8">3</tspan></text>
<text x="212.1" y="300.1" font-size="8" text-anchor="end" font-weight="normal" fill="#1a1a1a" >10<tspan dy="-3.3" font-size="5.8">3</tspan></text>
<line x1="299.29999999999995" y1="344.3" x2="299.29999999999995" y2="347.90000000000003" stroke="#111" stroke-width="1.1"/>
<line x1="214.5" y1="263.1" x2="218.1" y2="263.1" stroke="#111" stroke-width="1.1"/>
<text x="299.8" y="357.7" font-size="8" text-anchor="middle" font-weight="normal" fill="#1a1a1a" >10<tspan dy="-3.3" font-size="5.8">4</tspan></text>
<text x="212.1" y="266.70000000000005" font-size="8" text-anchor="end" font-weight="normal" fill="#1a1a1a" >10<tspan dy="-3.3" font-size="5.8">4</tspan></text>
<line x1="328.6" y1="344.3" x2="328.6" y2="347.90000000000003" stroke="#111" stroke-width="1.1"/>
<line x1="214.5" y1="233.8" x2="218.1" y2="233.8" stroke="#111" stroke-width="1.1"/>
<text x="329.1" y="357.7" font-size="8" text-anchor="middle" font-weight="normal" fill="#1a1a1a" >10<tspan dy="-3.3" font-size="5.8">5</tspan></text>
<text x="212.1" y="237.4" font-size="8" text-anchor="end" font-weight="normal" fill="#1a1a1a" >10<tspan dy="-3.3" font-size="5.8">5</tspan></text>
<line x1="188.7" y1="347.8" x2="188.7" y2="368.1" stroke="#111" stroke-width="1.2"/>
<line x1="188.1" y1="367.5" x2="209.5" y2="367.5" stroke="#111" stroke-width="1.2"/>
<text x="212.89999999999998" y="369.8" font-size="9" text-anchor="start" font-weight="normal" fill="#1a1a1a" textLength="23.6" lengthAdjust="spacingAndGlyphs" >hCD45</text>
<text transform="translate(192.1,344) rotate(-90)" font-size="9" text-anchor="start" fill="#1a1a1a" textLength="29.1" lengthAdjust="spacingAndGlyphs">hCD123</text>
<rect x="390.0" y="222.2" width="122.7" height="122.10000000000002" fill="none" stroke="#111" stroke-width="1.5"/>
<text x="451.35" y="216.4" font-size="10" text-anchor="middle" font-weight="normal" fill="#1a1a1a" textLength="25.0" lengthAdjust="spacingAndGlyphs" >Blasts</text>
<line x1="399.61" y1="344.3" x2="399.61" y2="346.7" stroke="#1a1a1a" stroke-width="0.85"/>
<line x1="387.6" y1="334.69" x2="390.0" y2="334.69" stroke="#1a1a1a" stroke-width="0.85"/>
<line x1="401.62" y1="344.3" x2="401.62" y2="346.7" stroke="#1a1a1a" stroke-width="0.85"/>
<line x1="387.6" y1="332.68" x2="390.0" y2="332.68" stroke="#1a1a1a" stroke-width="0.85"/>
<line x1="403.63" y1="344.3" x2="403.63" y2="346.7" stroke="#1a1a1a" stroke-width="0.85"/>
<line x1="387.6" y1="330.67" x2="390.0" y2="330.67" stroke="#1a1a1a" stroke-width="0.85"/>
<line x1="405.64" y1="344.3" x2="405.64" y2="346.7" stroke="#1a1a1a" stroke-width="0.85"/>
<line x1="387.6" y1="328.66" x2="390.0" y2="328.66" stroke="#1a1a1a" stroke-width="0.85"/>
<line x1="407.65" y1="344.3" x2="407.65" y2="346.7" stroke="#1a1a1a" stroke-width="0.85"/>
<line x1="387.6" y1="326.65000000000003" x2="390.0" y2="326.65000000000003" stroke="#1a1a1a" stroke-width="0.85"/>
<line x1="409.66" y1="344.3" x2="409.66" y2="346.7" stroke="#1a1a1a" stroke-width="0.85"/>
<line x1="387.6" y1="324.64" x2="390.0" y2="324.64" stroke="#1a1a1a" stroke-width="0.85"/>
<line x1="411.67" y1="344.3" x2="411.67" y2="346.7" stroke="#1a1a1a" stroke-width="0.85"/>
<line x1="387.6" y1="322.63" x2="390.0" y2="322.63" stroke="#1a1a1a" stroke-width="0.85"/>
<line x1="413.68" y1="344.3" x2="413.68" y2="346.7" stroke="#1a1a1a" stroke-width="0.85"/>
<line x1="387.6" y1="320.62" x2="390.0" y2="320.62" stroke="#1a1a1a" stroke-width="0.85"/>
<line x1="415.69" y1="344.3" x2="415.69" y2="346.7" stroke="#1a1a1a" stroke-width="0.85"/>
<line x1="387.6" y1="318.61" x2="390.0" y2="318.61" stroke="#1a1a1a" stroke-width="0.85"/>
<line x1="417.7" y1="344.3" x2="417.7" y2="346.7" stroke="#1a1a1a" stroke-width="0.85"/>
<line x1="387.6" y1="316.6" x2="390.0" y2="316.6" stroke="#1a1a1a" stroke-width="0.85"/>
<line x1="419.71" y1="344.3" x2="419.71" y2="346.7" stroke="#1a1a1a" stroke-width="0.85"/>
<line x1="387.6" y1="314.59000000000003" x2="390.0" y2="314.59000000000003" stroke="#1a1a1a" stroke-width="0.85"/>
<line x1="421.72" y1="344.3" x2="421.72" y2="346.7" stroke="#1a1a1a" stroke-width="0.85"/>
<line x1="387.6" y1="312.58000000000004" x2="390.0" y2="312.58000000000004" stroke="#1a1a1a" stroke-width="0.85"/>
<line x1="423.73" y1="344.3" x2="423.73" y2="346.7" stroke="#1a1a1a" stroke-width="0.85"/>
<line x1="387.6" y1="310.57" x2="390.0" y2="310.57" stroke="#1a1a1a" stroke-width="0.85"/>
<line x1="425.74" y1="344.3" x2="425.74" y2="346.7" stroke="#1a1a1a" stroke-width="0.85"/>
<line x1="387.6" y1="308.56" x2="390.0" y2="308.56" stroke="#1a1a1a" stroke-width="0.85"/>
<line x1="427.75" y1="344.3" x2="427.75" y2="346.7" stroke="#1a1a1a" stroke-width="0.85"/>
<line x1="387.6" y1="306.55" x2="390.0" y2="306.55" stroke="#1a1a1a" stroke-width="0.85"/>
<line x1="429.76" y1="344.3" x2="429.76" y2="346.7" stroke="#1a1a1a" stroke-width="0.85"/>
<line x1="387.6" y1="304.54" x2="390.0" y2="304.54" stroke="#1a1a1a" stroke-width="0.85"/>
<line x1="431.77" y1="344.3" x2="431.77" y2="346.7" stroke="#1a1a1a" stroke-width="0.85"/>
<line x1="387.6" y1="302.53000000000003" x2="390.0" y2="302.53000000000003" stroke="#1a1a1a" stroke-width="0.85"/>
<line x1="433.78" y1="344.3" x2="433.78" y2="346.7" stroke="#1a1a1a" stroke-width="0.85"/>
<line x1="387.6" y1="300.52" x2="390.0" y2="300.52" stroke="#1a1a1a" stroke-width="0.85"/>
<line x1="435.79" y1="344.3" x2="435.79" y2="346.7" stroke="#1a1a1a" stroke-width="0.85"/>
<line x1="387.6" y1="298.51" x2="390.0" y2="298.51" stroke="#1a1a1a" stroke-width="0.85"/>
<line x1="447.85440185517695" y1="344.3" x2="447.85440185517695" y2="346.7" stroke="#1a1a1a" stroke-width="0.85"/>
<line x1="387.6" y1="286.44559814482307" x2="390.0" y2="286.44559814482307" stroke="#1a1a1a" stroke-width="0.85"/>
<line x1="453.73584990763675" y1="344.3" x2="453.73584990763675" y2="346.7" stroke="#1a1a1a" stroke-width="0.85"/>
<line x1="387.6" y1="280.5641500923633" x2="390.0" y2="280.5641500923633" stroke="#1a1a1a" stroke-width="0.85"/>
<line x1="457.90880371035394" y1="344.3" x2="457.90880371035394" y2="346.7" stroke="#1a1a1a" stroke-width="0.85"/>
<line x1="387.6" y1="276.3911962896461" x2="390.0" y2="276.3911962896461" stroke="#1a1a1a" stroke-width="0.85"/>
<line x1="461.145598144823" y1="344.3" x2="461.145598144823" y2="346.7" stroke="#1a1a1a" stroke-width="0.85"/>
<line x1="387.6" y1="273.15440185517696" x2="390.0" y2="273.15440185517696" stroke="#1a1a1a" stroke-width="0.85"/>
<line x1="463.7902517628137" y1="344.3" x2="463.7902517628137" y2="346.7" stroke="#1a1a1a" stroke-width="0.85"/>
<line x1="387.6" y1="270.50974823718633" x2="390.0" y2="270.50974823718633" stroke="#1a1a1a" stroke-width="0.85"/>
<line x1="466.0262745364762" y1="344.3" x2="466.0262745364762" y2="346.7" stroke="#1a1a1a" stroke-width="0.85"/>
<line x1="387.6" y1="268.2737254635239" x2="390.0" y2="268.2737254635239" stroke="#1a1a1a" stroke-width="0.85"/>
<line x1="467.9632055655309" y1="344.3" x2="467.9632055655309" y2="346.7" stroke="#1a1a1a" stroke-width="0.85"/>
<line x1="387.6" y1="266.3367944344691" x2="390.0" y2="266.3367944344691" stroke="#1a1a1a" stroke-width="0.85"/>
<line x1="469.6716998152734" y1="344.3" x2="469.6716998152734" y2="346.7" stroke="#1a1a1a" stroke-width="0.85"/>
<line x1="387.6" y1="264.6283001847266" x2="390.0" y2="264.6283001847266" stroke="#1a1a1a" stroke-width="0.85"/>
<line x1="480.02017887295466" y1="344.3" x2="480.02017887295466" y2="346.7" stroke="#1a1a1a" stroke-width="0.85"/>
<line x1="387.6" y1="254.27982112704535" x2="390.0" y2="254.27982112704535" stroke="#1a1a1a" stroke-width="0.85"/>
<line x1="485.17965276328613" y1="344.3" x2="485.17965276328613" y2="346.7" stroke="#1a1a1a" stroke-width="0.85"/>
<line x1="387.6" y1="249.12034723671388" x2="390.0" y2="249.12034723671388" stroke="#1a1a1a" stroke-width="0.85"/>
<line x1="488.8403577459093" y1="344.3" x2="488.8403577459093" y2="346.7" stroke="#1a1a1a" stroke-width="0.85"/>
<line x1="387.6" y1="245.4596422540907" x2="390.0" y2="245.4596422540907" stroke="#1a1a1a" stroke-width="0.85"/>
<line x1="491.67982112704533" y1="344.3" x2="491.67982112704533" y2="346.7" stroke="#1a1a1a" stroke-width="0.85"/>
<line x1="387.6" y1="242.62017887295465" x2="390.0" y2="242.62017887295465" stroke="#1a1a1a" stroke-width="0.85"/>
<line x1="493.99983163624074" y1="344.3" x2="493.99983163624074" y2="346.7" stroke="#1a1a1a" stroke-width="0.85"/>
<line x1="387.6" y1="240.30016836375924" x2="390.0" y2="240.30016836375924" stroke="#1a1a1a" stroke-width="0.85"/>
<line x1="495.96137257241776" y1="344.3" x2="495.96137257241776" y2="346.7" stroke="#1a1a1a" stroke-width="0.85"/>
<line x1="387.6" y1="238.33862742758228" x2="390.0" y2="238.33862742758228" stroke="#1a1a1a" stroke-width="0.85"/>
<line x1="497.66053661886394" y1="344.3" x2="497.66053661886394" y2="346.7" stroke="#1a1a1a" stroke-width="0.85"/>
<line x1="387.6" y1="236.63946338113607" x2="390.0" y2="236.63946338113607" stroke="#1a1a1a" stroke-width="0.85"/>
<line x1="499.1593055265722" y1="344.3" x2="499.1593055265722" y2="346.7" stroke="#1a1a1a" stroke-width="0.85"/>
<line x1="387.6" y1="235.1406944734278" x2="390.0" y2="235.1406944734278" stroke="#1a1a1a" stroke-width="0.85"/>
<line x1="509.32017887295467" y1="344.3" x2="509.32017887295467" y2="346.7" stroke="#1a1a1a" stroke-width="0.85"/>
<line x1="387.6" y1="224.97982112704534" x2="390.0" y2="224.97982112704534" stroke="#1a1a1a" stroke-width="0.85"/>
<line x1="397.6" y1="344.3" x2="397.6" y2="347.90000000000003" stroke="#111" stroke-width="1.1"/>
<line x1="386.4" y1="336.7" x2="390.0" y2="336.7" stroke="#111" stroke-width="1.1"/>
<text x="398.0" y="357.7" font-size="8" text-anchor="middle" font-weight="normal" fill="#1a1a1a" >-10<tspan dy="-3.3" font-size="5.8">3</tspan></text>
<text x="384.0" y="340.3" font-size="8" text-anchor="end" font-weight="normal" fill="#1a1a1a" >-10<tspan dy="-3.3" font-size="5.8">3</tspan></text>
<line x1="417.7" y1="344.3" x2="417.7" y2="347.90000000000003" stroke="#111" stroke-width="1.1"/>
<line x1="386.4" y1="316.6" x2="390.0" y2="316.6" stroke="#111" stroke-width="1.1"/>
<text x="420.1" y="357.7" font-size="8" text-anchor="middle" font-weight="normal" fill="#1a1a1a" >0</text>
<text x="384.0" y="318.90000000000003" font-size="8" text-anchor="end" font-weight="normal" fill="#1a1a1a" >0</text>
<line x1="437.8" y1="344.3" x2="437.8" y2="347.90000000000003" stroke="#111" stroke-width="1.1"/>
<line x1="386.4" y1="296.5" x2="390.0" y2="296.5" stroke="#111" stroke-width="1.1"/>
<text x="438.5" y="357.7" font-size="8" text-anchor="middle" font-weight="normal" fill="#1a1a1a" >10<tspan dy="-3.3" font-size="5.8">3</tspan></text>
<text x="384.0" y="300.1" font-size="8" text-anchor="end" font-weight="normal" fill="#1a1a1a" >10<tspan dy="-3.3" font-size="5.8">3</tspan></text>
<line x1="471.2" y1="344.3" x2="471.2" y2="347.90000000000003" stroke="#111" stroke-width="1.1"/>
<line x1="386.4" y1="263.1" x2="390.0" y2="263.1" stroke="#111" stroke-width="1.1"/>
<text x="471.7" y="357.7" font-size="8" text-anchor="middle" font-weight="normal" fill="#1a1a1a" >10<tspan dy="-3.3" font-size="5.8">4</tspan></text>
<text x="384.0" y="266.70000000000005" font-size="8" text-anchor="end" font-weight="normal" fill="#1a1a1a" >10<tspan dy="-3.3" font-size="5.8">4</tspan></text>
<line x1="500.5" y1="344.3" x2="500.5" y2="347.90000000000003" stroke="#111" stroke-width="1.1"/>
<line x1="386.4" y1="233.8" x2="390.0" y2="233.8" stroke="#111" stroke-width="1.1"/>
<text x="501.0" y="357.7" font-size="8" text-anchor="middle" font-weight="normal" fill="#1a1a1a" >10<tspan dy="-3.3" font-size="5.8">5</tspan></text>
<text x="384.0" y="237.4" font-size="8" text-anchor="end" font-weight="normal" fill="#1a1a1a" >10<tspan dy="-3.3" font-size="5.8">5</tspan></text>
<line x1="360.6" y1="347.8" x2="360.6" y2="368.1" stroke="#111" stroke-width="1.2"/>
<line x1="360.0" y1="367.5" x2="381.40000000000003" y2="367.5" stroke="#111" stroke-width="1.2"/>
<text x="384.8" y="369.8" font-size="9" text-anchor="start" font-weight="normal" fill="#1a1a1a" textLength="29.0" lengthAdjust="spacingAndGlyphs" >hCD123</text>
<text transform="translate(364.0,344) rotate(-90)" font-size="9" text-anchor="start" fill="#1a1a1a" textLength="23.0" lengthAdjust="spacingAndGlyphs">hCD34</text>
<defs><radialGradient id="gD" gradientUnits="userSpaceOnUse" cx="0" cy="0" r="1" gradientTransform="translate(98.3,282.5) rotate(-62) scale(27,14)"><stop offset="0" stop-color="#3c3c3c"/><stop offset="0.3" stop-color="#6e6e6e"/><stop offset="0.62" stop-color="#b4b4b4"/><stop offset="0.88" stop-color="#d8d8d8"/><stop offset="1" stop-color="#e4e4e4"/></radialGradient><radialGradient id="band" cx="0.5" cy="0.5" r="0.5"><stop offset="0" stop-color="#303030"/><stop offset="0.55" stop-color="#5a5a5a"/><stop offset="0.85" stop-color="#a8a8a8"/><stop offset="1" stop-color="#e2e2e2"/></radialGradient><radialGradient id="band2" cx="0.5" cy="0.5" r="0.5"><stop offset="0" stop-color="#2a2a2a"/><stop offset="0.6" stop-color="#555"/><stop offset="0.9" stop-color="#bdbdbd"/><stop offset="1" stop-color="#ececec"/></radialGradient></defs>
<rect x="85.6" y="237.2" width="53.3" height="67.4" fill="none" stroke="#7a7a7a" stroke-width="1.1"/>
<path d="M109.00,260.30 C107.55,260.15 107.00,261.30 105.80,261.60 C104.60,261.90 102.98,261.83 101.80,262.10 C100.62,262.37 99.62,262.68 98.70,263.20 C97.78,263.72 96.97,264.30 96.30,265.20 C95.63,266.10 95.37,267.48 94.70,268.60 C94.03,269.72 93.10,271.00 92.30,271.90 C91.50,272.80 90.62,273.08 89.90,274.00 C89.18,274.92 88.58,276.03 88.00,277.40 C87.42,278.77 86.83,280.80 86.40,282.20 C85.97,283.60 85.77,284.63 85.40,285.80 C85.03,286.97 84.00,288.03 84.20,289.20 C84.40,290.37 85.92,291.47 86.60,292.80 C87.28,294.13 88.23,295.75 88.30,297.20 C88.37,298.65 87.05,300.07 87.00,301.50 C86.95,302.93 87.37,304.52 88.00,305.80 C88.63,307.08 89.72,308.92 90.80,309.20 C91.88,309.48 93.22,308.10 94.50,307.50 C95.78,306.90 97.17,306.08 98.50,305.60 C99.83,305.12 101.20,305.23 102.50,304.60 C103.80,303.97 105.25,302.80 106.30,301.80 C107.35,300.80 108.07,299.87 108.80,298.60 C109.53,297.33 110.17,295.68 110.70,294.20 C111.23,292.72 111.47,291.18 112.00,289.70 C112.53,288.22 113.48,286.77 113.90,285.30 C114.32,283.83 114.57,282.70 114.50,280.90 C114.43,279.10 113.60,276.62 113.50,274.50 C113.40,272.38 113.73,270.20 113.90,268.20 C114.07,266.20 115.32,263.82 114.50,262.50 C113.68,261.18 110.45,260.45 109.00,260.30 Z" fill="url(#gD)" stroke="#000" stroke-width="2.0"/>
<path d="M86.3,299.3 L88.5,298.8 L92,300.6 L95,301.6 L100,301.2 L105,300.6 L108.6,299.3 L109,303 L107.6,306 L104,306.9 L99,305.6 L95.5,306.2 L92.8,308.2 L90.7,309.8 L88.8,307.2 L86.4,304 Z" fill="#000"/>
<circle cx="113" cy="256.0" r="4.3" fill="#000"/><circle cx="117.2" cy="258.7" r="3.2" fill="#000"/><circle cx="116.4" cy="259.6" r="0.9" fill="#fff"/>
<path d="M108.3,259 L110.5,262.6 L116,262.6 L116,259 Z" fill="#000"/>
<circle cx="103.8" cy="303.4" r="1.05" fill="#fff"/>
<g transform="translate(77.4,314.3) rotate(9)">
<ellipse cx="0" cy="0" rx="8.30" ry="12.30" fill="#d4d4d4" stroke="#555" stroke-width="0.8"/>
<ellipse cx="0" cy="0" rx="7.47" ry="11.07" fill="#a4a4a4" stroke="none" stroke-width="0"/>
<ellipse cx="0" cy="0" rx="6.14" ry="9.10" fill="#c0c0c0" stroke="#111" stroke-width="1.6"/>
<ellipse cx="0" cy="0" rx="4.32" ry="6.40" fill="#9a9a9a" stroke="#333" stroke-width="0.9"/>
<ellipse cx="0" cy="0" rx="2.82" ry="4.18" fill="#8a8a8a" stroke="#e0e0e0" stroke-width="0.6"/>
<ellipse cx="0" cy="0" rx="1.25" ry="1.84" fill="#555" stroke="none" stroke-width="0"/>
</g>
<g transform="translate(248.8,314.1) rotate(5)">
<ellipse cx="0" cy="0" rx="5.40" ry="9.50" fill="#f4f4f4" stroke="#111" stroke-width="1.4"/>
<ellipse cx="0" cy="0" rx="4.10" ry="7.22" fill="#8c8c8c" stroke="#2a2a2a" stroke-width="1.0"/>
<ellipse cx="0" cy="0" rx="2.81" ry="4.94" fill="#6e6e6e" stroke="#c8c8c8" stroke-width="0.6"/>
<ellipse cx="0" cy="0" rx="1.51" ry="2.66" fill="#505050" stroke="#9a9a9a" stroke-width="0.5"/>
</g>
<rect x="44.7" y="313.5" width="2.6" height="5.2" fill="#000"/>
<rect x="216.79999999999998" y="313.5" width="2.6" height="5.2" fill="#000"/>
<rect x="388.7" y="313.4" width="2.6" height="5.2" fill="#000"/>
<rect x="70.5" y="343.5" width="6" height="2.4" fill="#000"/>
<rect x="242.6" y="343.5" width="6" height="2.4" fill="#000"/>
<rect x="414.8" y="343.7" width="6" height="2.4" fill="#000"/>
<defs><filter id="bl" x="-20%" y="-20%" width="140%" height="140%"><feGaussianBlur stdDeviation="0.55"/></filter><filter id="bl2" x="-30%" y="-30%" width="160%" height="160%"><feGaussianBlur stdDeviation="1.2"/></filter></defs>
<clipPath id="cl1"><path d="M447.60,252.90 C449.37,252.58 451.40,252.98 453.50,253.30 C455.60,253.62 458.13,254.32 460.20,254.80 C462.27,255.28 464.15,255.82 465.90,256.20 C467.65,256.58 469.62,256.55 470.70,257.10 C471.78,257.65 472.25,258.30 472.40,259.50 C472.55,260.70 472.05,262.87 471.60,264.30 C471.15,265.73 470.13,266.83 469.70,268.10 C469.27,269.37 469.08,270.63 469.00,271.90 C468.92,273.17 469.32,274.27 469.20,275.70 C469.08,277.13 468.73,279.18 468.30,280.50 C467.87,281.82 467.18,282.85 466.60,283.60 C466.02,284.35 465.47,284.25 464.80,285.00 C464.13,285.75 463.08,286.95 462.60,288.10 C462.12,289.25 461.72,290.85 461.90,291.90 C462.08,292.95 463.52,293.55 463.70,294.40 C463.88,295.25 463.50,296.32 463.00,297.00 C462.50,297.68 461.27,297.75 460.70,298.50 C460.13,299.25 459.82,300.33 459.60,301.50 C459.38,302.67 459.20,304.28 459.40,305.50 C459.60,306.72 460.18,308.13 460.80,308.80 C461.42,309.47 462.47,309.90 463.10,309.50 C463.73,309.10 463.87,307.12 464.60,306.40 C465.33,305.68 466.48,305.60 467.50,305.20 C468.52,304.80 469.53,303.88 470.70,304.00 C471.87,304.12 473.23,305.95 474.50,305.90 C475.77,305.85 477.13,303.70 478.30,303.70 C479.47,303.70 480.33,304.80 481.50,305.90 C482.67,307.00 484.18,308.82 485.30,310.30 C486.42,311.78 487.92,313.58 488.20,314.80 C488.48,316.02 487.80,316.90 487.00,317.60 C486.20,318.30 485.75,318.55 483.40,319.00 C481.05,319.45 476.80,320.05 472.90,320.30 C469.00,320.55 464.65,320.50 460.00,320.50 C455.35,320.50 448.53,320.38 445.00,320.30 C441.47,320.22 441.30,320.08 438.80,320.00 C436.30,319.92 432.40,319.97 430.00,319.80 C427.60,319.63 425.70,319.63 424.40,319.00 C423.10,318.37 422.35,317.30 422.20,316.00 C422.05,314.70 422.82,312.93 423.50,311.20 C424.18,309.47 425.60,307.33 426.30,305.60 C427.00,303.87 427.12,302.27 427.70,300.80 C428.28,299.33 429.08,297.53 429.80,296.80 C430.52,296.07 431.20,296.20 432.00,296.40 C432.80,296.60 433.68,297.57 434.60,298.00 C435.52,298.43 436.57,298.77 437.50,299.00 C438.43,299.23 439.37,299.47 440.20,299.40 C441.03,299.33 441.67,298.87 442.50,298.60 C443.33,298.33 444.63,298.43 445.20,297.80 C445.77,297.17 445.97,295.92 445.90,294.80 C445.83,293.68 445.23,292.43 444.80,291.10 C444.37,289.77 443.68,288.05 443.30,286.80 C442.92,285.55 443.05,284.33 442.50,283.60 C441.95,282.87 440.97,282.77 440.00,282.40 C439.03,282.03 437.73,281.80 436.70,281.40 C435.67,281.00 434.68,280.63 433.80,280.00 C432.92,279.37 432.27,278.23 431.40,277.60 C430.53,276.97 429.70,276.60 428.60,276.20 C427.50,275.80 425.75,275.75 424.80,275.20 C423.85,274.65 423.15,273.68 422.90,272.90 C422.65,272.12 422.92,271.22 423.30,270.50 C423.68,269.78 424.63,269.23 425.20,268.60 C425.77,267.97 426.53,267.50 426.70,266.70 C426.87,265.90 426.05,264.68 426.20,263.80 C426.35,262.92 426.73,262.03 427.60,261.40 C428.47,260.77 429.82,260.63 431.40,260.00 C432.98,259.37 435.18,258.40 437.10,257.60 C439.02,256.80 441.15,255.98 442.90,255.20 C444.65,254.42 445.83,253.22 447.60,252.90 Z"/></clipPath>
<path d="M447.60,252.90 C449.37,252.58 451.40,252.98 453.50,253.30 C455.60,253.62 458.13,254.32 460.20,254.80 C462.27,255.28 464.15,255.82 465.90,256.20 C467.65,256.58 469.62,256.55 470.70,257.10 C471.78,257.65 472.25,258.30 472.40,259.50 C472.55,260.70 472.05,262.87 471.60,264.30 C471.15,265.73 470.13,266.83 469.70,268.10 C469.27,269.37 469.08,270.63 469.00,271.90 C468.92,273.17 469.32,274.27 469.20,275.70 C469.08,277.13 468.73,279.18 468.30,280.50 C467.87,281.82 467.18,282.85 466.60,283.60 C466.02,284.35 465.47,284.25 464.80,285.00 C464.13,285.75 463.08,286.95 462.60,288.10 C462.12,289.25 461.72,290.85 461.90,291.90 C462.08,292.95 463.52,293.55 463.70,294.40 C463.88,295.25 463.50,296.32 463.00,297.00 C462.50,297.68 461.27,297.75 460.70,298.50 C460.13,299.25 459.82,300.33 459.60,301.50 C459.38,302.67 459.20,304.28 459.40,305.50 C459.60,306.72 460.18,308.13 460.80,308.80 C461.42,309.47 462.47,309.90 463.10,309.50 C463.73,309.10 463.87,307.12 464.60,306.40 C465.33,305.68 466.48,305.60 467.50,305.20 C468.52,304.80 469.53,303.88 470.70,304.00 C471.87,304.12 473.23,305.95 474.50,305.90 C475.77,305.85 477.13,303.70 478.30,303.70 C479.47,303.70 480.33,304.80 481.50,305.90 C482.67,307.00 484.18,308.82 485.30,310.30 C486.42,311.78 487.92,313.58 488.20,314.80 C488.48,316.02 487.80,316.90 487.00,317.60 C486.20,318.30 485.75,318.55 483.40,319.00 C481.05,319.45 476.80,320.05 472.90,320.30 C469.00,320.55 464.65,320.50 460.00,320.50 C455.35,320.50 448.53,320.38 445.00,320.30 C441.47,320.22 441.30,320.08 438.80,320.00 C436.30,319.92 432.40,319.97 430.00,319.80 C427.60,319.63 425.70,319.63 424.40,319.00 C423.10,318.37 422.35,317.30 422.20,316.00 C422.05,314.70 422.82,312.93 423.50,311.20 C424.18,309.47 425.60,307.33 426.30,305.60 C427.00,303.87 427.12,302.27 427.70,300.80 C428.28,299.33 429.08,297.53 429.80,296.80 C430.52,296.07 431.20,296.20 432.00,296.40 C432.80,296.60 433.68,297.57 434.60,298.00 C435.52,298.43 436.57,298.77 437.50,299.00 C438.43,299.23 439.37,299.47 440.20,299.40 C441.03,299.33 441.67,298.87 442.50,298.60 C443.33,298.33 444.63,298.43 445.20,297.80 C445.77,297.17 445.97,295.92 445.90,294.80 C445.83,293.68 445.23,292.43 444.80,291.10 C444.37,289.77 443.68,288.05 443.30,286.80 C442.92,285.55 443.05,284.33 442.50,283.60 C441.95,282.87 440.97,282.77 440.00,282.40 C439.03,282.03 437.73,281.80 436.70,281.40 C435.67,281.00 434.68,280.63 433.80,280.00 C432.92,279.37 432.27,278.23 431.40,277.60 C430.53,276.97 429.70,276.60 428.60,276.20 C427.50,275.80 425.75,275.75 424.80,275.20 C423.85,274.65 423.15,273.68 422.90,272.90 C422.65,272.12 422.92,271.22 423.30,270.50 C423.68,269.78 424.63,269.23 425.20,268.60 C425.77,267.97 426.53,267.50 426.70,266.70 C426.87,265.90 426.05,264.68 426.20,263.80 C426.35,262.92 426.73,262.03 427.60,261.40 C428.47,260.77 429.82,260.63 431.40,260.00 C432.98,259.37 435.18,258.40 437.10,257.60 C439.02,256.80 441.15,255.98 442.90,255.20 C444.65,254.42 445.83,253.22 447.60,252.90 Z" fill="#858585"/>
<g clip-path="url(#cl1)"><path d="M447.60,252.90 C449.37,252.58 451.40,252.98 453.50,253.30 C455.60,253.62 458.13,254.32 460.20,254.80 C462.27,255.28 464.15,255.82 465.90,256.20 C467.65,256.58 469.62,256.55 470.70,257.10 C471.78,257.65 472.25,258.30 472.40,259.50 C472.55,260.70 472.05,262.87 471.60,264.30 C471.15,265.73 470.13,266.83 469.70,268.10 C469.27,269.37 469.08,270.63 469.00,271.90 C468.92,273.17 469.32,274.27 469.20,275.70 C469.08,277.13 468.73,279.18 468.30,280.50 C467.87,281.82 467.18,282.85 466.60,283.60 C466.02,284.35 465.47,284.25 464.80,285.00 C464.13,285.75 463.08,286.95 462.60,288.10 C462.12,289.25 461.72,290.85 461.90,291.90 C462.08,292.95 463.52,293.55 463.70,294.40 C463.88,295.25 463.50,296.32 463.00,297.00 C462.50,297.68 461.27,297.75 460.70,298.50 C460.13,299.25 459.82,300.33 459.60,301.50 C459.38,302.67 459.20,304.28 459.40,305.50 C459.60,306.72 460.18,308.13 460.80,308.80 C461.42,309.47 462.47,309.90 463.10,309.50 C463.73,309.10 463.87,307.12 464.60,306.40 C465.33,305.68 466.48,305.60 467.50,305.20 C468.52,304.80 469.53,303.88 470.70,304.00 C471.87,304.12 473.23,305.95 474.50,305.90 C475.77,305.85 477.13,303.70 478.30,303.70 C479.47,303.70 480.33,304.80 481.50,305.90 C482.67,307.00 484.18,308.82 485.30,310.30 C486.42,311.78 487.92,313.58 488.20,314.80 C488.48,316.02 487.80,316.90 487.00,317.60 C486.20,318.30 485.75,318.55 483.40,319.00 C481.05,319.45 476.80,320.05 472.90,320.30 C469.00,320.55 464.65,320.50 460.00,320.50 C455.35,320.50 448.53,320.38 445.00,320.30 C441.47,320.22 441.30,320.08 438.80,320.00 C436.30,319.92 432.40,319.97 430.00,319.80 C427.60,319.63 425.70,319.63 424.40,319.00 C423.10,318.37 422.35,317.30 422.20,316.00 C422.05,314.70 422.82,312.93 423.50,311.20 C424.18,309.47 425.60,307.33 426.30,305.60 C427.00,303.87 427.12,302.27 427.70,300.80 C428.28,299.33 429.08,297.53 429.80,296.80 C430.52,296.07 431.20,296.20 432.00,296.40 C432.80,296.60 433.68,297.57 434.60,298.00 C435.52,298.43 436.57,298.77 437.50,299.00 C438.43,299.23 439.37,299.47 440.20,299.40 C441.03,299.33 441.67,298.87 442.50,298.60 C443.33,298.33 444.63,298.43 445.20,297.80 C445.77,297.17 445.97,295.92 445.90,294.80 C445.83,293.68 445.23,292.43 444.80,291.10 C444.37,289.77 443.68,288.05 443.30,286.80 C442.92,285.55 443.05,284.33 442.50,283.60 C441.95,282.87 440.97,282.77 440.00,282.40 C439.03,282.03 437.73,281.80 436.70,281.40 C435.67,281.00 434.68,280.63 433.80,280.00 C432.92,279.37 432.27,278.23 431.40,277.60 C430.53,276.97 429.70,276.60 428.60,276.20 C427.50,275.80 425.75,275.75 424.80,275.20 C423.85,274.65 423.15,273.68 422.90,272.90 C422.65,272.12 422.92,271.22 423.30,270.50 C423.68,269.78 424.63,269.23 425.20,268.60 C425.77,267.97 426.53,267.50 426.70,266.70 C426.87,265.90 426.05,264.68 426.20,263.80 C426.35,262.92 426.73,262.03 427.60,261.40 C428.47,260.77 429.82,260.63 431.40,260.00 C432.98,259.37 435.18,258.40 437.10,257.60 C439.02,256.80 441.15,255.98 442.90,255.20 C444.65,254.42 445.83,253.22 447.60,252.90 Z" fill="none" stroke="#d6d6d6" stroke-width="5.0" filter="url(#bl)"/><path d="M447.60,252.90 C449.37,252.58 451.40,252.98 453.50,253.30 C455.60,253.62 458.13,254.32 460.20,254.80 C462.27,255.28 464.15,255.82 465.90,256.20 C467.65,256.58 469.62,256.55 470.70,257.10 C471.78,257.65 472.25,258.30 472.40,259.50 C472.55,260.70 472.05,262.87 471.60,264.30 C471.15,265.73 470.13,266.83 469.70,268.10 C469.27,269.37 469.08,270.63 469.00,271.90 C468.92,273.17 469.32,274.27 469.20,275.70 C469.08,277.13 468.73,279.18 468.30,280.50 C467.87,281.82 467.18,282.85 466.60,283.60 C466.02,284.35 465.47,284.25 464.80,285.00 C464.13,285.75 463.08,286.95 462.60,288.10 C462.12,289.25 461.72,290.85 461.90,291.90 C462.08,292.95 463.52,293.55 463.70,294.40 C463.88,295.25 463.50,296.32 463.00,297.00 C462.50,297.68 461.27,297.75 460.70,298.50 C460.13,299.25 459.82,300.33 459.60,301.50 C459.38,302.67 459.20,304.28 459.40,305.50 C459.60,306.72 460.18,308.13 460.80,308.80 C461.42,309.47 462.47,309.90 463.10,309.50 C463.73,309.10 463.87,307.12 464.60,306.40 C465.33,305.68 466.48,305.60 467.50,305.20 C468.52,304.80 469.53,303.88 470.70,304.00 C471.87,304.12 473.23,305.95 474.50,305.90 C475.77,305.85 477.13,303.70 478.30,303.70 C479.47,303.70 480.33,304.80 481.50,305.90 C482.67,307.00 484.18,308.82 485.30,310.30 C486.42,311.78 487.92,313.58 488.20,314.80 C488.48,316.02 487.80,316.90 487.00,317.60 C486.20,318.30 485.75,318.55 483.40,319.00 C481.05,319.45 476.80,320.05 472.90,320.30 C469.00,320.55 464.65,320.50 460.00,320.50 C455.35,320.50 448.53,320.38 445.00,320.30 C441.47,320.22 441.30,320.08 438.80,320.00 C436.30,319.92 432.40,319.97 430.00,319.80 C427.60,319.63 425.70,319.63 424.40,319.00 C423.10,318.37 422.35,317.30 422.20,316.00 C422.05,314.70 422.82,312.93 423.50,311.20 C424.18,309.47 425.60,307.33 426.30,305.60 C427.00,303.87 427.12,302.27 427.70,300.80 C428.28,299.33 429.08,297.53 429.80,296.80 C430.52,296.07 431.20,296.20 432.00,296.40 C432.80,296.60 433.68,297.57 434.60,298.00 C435.52,298.43 436.57,298.77 437.50,299.00 C438.43,299.23 439.37,299.47 440.20,299.40 C441.03,299.33 441.67,298.87 442.50,298.60 C443.33,298.33 444.63,298.43 445.20,297.80 C445.77,297.17 445.97,295.92 445.90,294.80 C445.83,293.68 445.23,292.43 444.80,291.10 C444.37,289.77 443.68,288.05 443.30,286.80 C442.92,285.55 443.05,284.33 442.50,283.60 C441.95,282.87 440.97,282.77 440.00,282.40 C439.03,282.03 437.73,281.80 436.70,281.40 C435.67,281.00 434.68,280.63 433.80,280.00 C432.92,279.37 432.27,278.23 431.40,277.60 C430.53,276.97 429.70,276.60 428.60,276.20 C427.50,275.80 425.75,275.75 424.80,275.20 C423.85,274.65 423.15,273.68 422.90,272.90 C422.65,272.12 422.92,271.22 423.30,270.50 C423.68,269.78 424.63,269.23 425.20,268.60 C425.77,267.97 426.53,267.50 426.70,266.70 C426.87,265.90 426.05,264.68 426.20,263.80 C426.35,262.92 426.73,262.03 427.60,261.40 C428.47,260.77 429.82,260.63 431.40,260.00 C432.98,259.37 435.18,258.40 437.10,257.60 C439.02,256.80 441.15,255.98 442.90,255.20 C444.65,254.42 445.83,253.22 447.60,252.90 Z" fill="none" stroke="#fff" stroke-width="1.8"/></g>
<path d="M447.60,252.90 C449.37,252.58 451.40,252.98 453.50,253.30 C455.60,253.62 458.13,254.32 460.20,254.80 C462.27,255.28 464.15,255.82 465.90,256.20 C467.65,256.58 469.62,256.55 470.70,257.10 C471.78,257.65 472.25,258.30 472.40,259.50 C472.55,260.70 472.05,262.87 471.60,264.30 C471.15,265.73 470.13,266.83 469.70,268.10 C469.27,269.37 469.08,270.63 469.00,271.90 C468.92,273.17 469.32,274.27 469.20,275.70 C469.08,277.13 468.73,279.18 468.30,280.50 C467.87,281.82 467.18,282.85 466.60,283.60 C466.02,284.35 465.47,284.25 464.80,285.00 C464.13,285.75 463.08,286.95 462.60,288.10 C462.12,289.25 461.72,290.85 461.90,291.90 C462.08,292.95 463.52,293.55 463.70,294.40 C463.88,295.25 463.50,296.32 463.00,297.00 C462.50,297.68 461.27,297.75 460.70,298.50 C460.13,299.25 459.82,300.33 459.60,301.50 C459.38,302.67 459.20,304.28 459.40,305.50 C459.60,306.72 460.18,308.13 460.80,308.80 C461.42,309.47 462.47,309.90 463.10,309.50 C463.73,309.10 463.87,307.12 464.60,306.40 C465.33,305.68 466.48,305.60 467.50,305.20 C468.52,304.80 469.53,303.88 470.70,304.00 C471.87,304.12 473.23,305.95 474.50,305.90 C475.77,305.85 477.13,303.70 478.30,303.70 C479.47,303.70 480.33,304.80 481.50,305.90 C482.67,307.00 484.18,308.82 485.30,310.30 C486.42,311.78 487.92,313.58 488.20,314.80 C488.48,316.02 487.80,316.90 487.00,317.60 C486.20,318.30 485.75,318.55 483.40,319.00 C481.05,319.45 476.80,320.05 472.90,320.30 C469.00,320.55 464.65,320.50 460.00,320.50 C455.35,320.50 448.53,320.38 445.00,320.30 C441.47,320.22 441.30,320.08 438.80,320.00 C436.30,319.92 432.40,319.97 430.00,319.80 C427.60,319.63 425.70,319.63 424.40,319.00 C423.10,318.37 422.35,317.30 422.20,316.00 C422.05,314.70 422.82,312.93 423.50,311.20 C424.18,309.47 425.60,307.33 426.30,305.60 C427.00,303.87 427.12,302.27 427.70,300.80 C428.28,299.33 429.08,297.53 429.80,296.80 C430.52,296.07 431.20,296.20 432.00,296.40 C432.80,296.60 433.68,297.57 434.60,298.00 C435.52,298.43 436.57,298.77 437.50,299.00 C438.43,299.23 439.37,299.47 440.20,299.40 C441.03,299.33 441.67,298.87 442.50,298.60 C443.33,298.33 444.63,298.43 445.20,297.80 C445.77,297.17 445.97,295.92 445.90,294.80 C445.83,293.68 445.23,292.43 444.80,291.10 C444.37,289.77 443.68,288.05 443.30,286.80 C442.92,285.55 443.05,284.33 442.50,283.60 C441.95,282.87 440.97,282.77 440.00,282.40 C439.03,282.03 437.73,281.80 436.70,281.40 C435.67,281.00 434.68,280.63 433.80,280.00 C432.92,279.37 432.27,278.23 431.40,277.60 C430.53,276.97 429.70,276.60 428.60,276.20 C427.50,275.80 425.75,275.75 424.80,275.20 C423.85,274.65 423.15,273.68 422.90,272.90 C422.65,272.12 422.92,271.22 423.30,270.50 C423.68,269.78 424.63,269.23 425.20,268.60 C425.77,267.97 426.53,267.50 426.70,266.70 C426.87,265.90 426.05,264.68 426.20,263.80 C426.35,262.92 426.73,262.03 427.60,261.40 C428.47,260.77 429.82,260.63 431.40,260.00 C432.98,259.37 435.18,258.40 437.10,257.60 C439.02,256.80 441.15,255.98 442.90,255.20 C444.65,254.42 445.83,253.22 447.60,252.90 Z" fill="none" stroke="#000" stroke-width="1.2"/>
<ellipse cx="453.8" cy="292.3" rx="5.5" ry="6.5" fill="#1e1e1e" filter="url(#bl2)"/>
<ellipse cx="452" cy="308.5" rx="7" ry="2.2" fill="#444" filter="url(#bl2)"/>
<ellipse cx="447" cy="289" rx="2.5" ry="5" fill="#555" filter="url(#bl2)"/>
<ellipse cx="457.5" cy="287.6" rx="2.6" ry="3" fill="#e4e4e4" filter="url(#bl)"/>
<circle cx="451.2" cy="295.5" r="1.2" fill="#fff"/>
<clipPath id="cl2"><path d="M430.80,307.30 C431.58,306.65 433.38,306.25 435.00,306.30 C436.62,306.35 439.67,306.85 440.50,307.60 C441.33,308.35 441.08,310.17 440.00,310.80 C438.92,311.43 435.62,311.50 434.00,311.40 C432.38,311.30 430.83,310.88 430.30,310.20 C429.77,309.52 430.02,307.95 430.80,307.30 Z"/></clipPath>
<path d="M430.80,307.30 C431.58,306.65 433.38,306.25 435.00,306.30 C436.62,306.35 439.67,306.85 440.50,307.60 C441.33,308.35 441.08,310.17 440.00,310.80 C438.92,311.43 435.62,311.50 434.00,311.40 C432.38,311.30 430.83,310.88 430.30,310.20 C429.77,309.52 430.02,307.95 430.80,307.30 Z" fill="none" stroke="#444" stroke-width="2.5" filter="url(#bl)"/>
<path d="M430.80,307.30 C431.58,306.65 433.38,306.25 435.00,306.30 C436.62,306.35 439.67,306.85 440.50,307.60 C441.33,308.35 441.08,310.17 440.00,310.80 C438.92,311.43 435.62,311.50 434.00,311.40 C432.38,311.30 430.83,310.88 430.30,310.20 C429.77,309.52 430.02,307.95 430.80,307.30 Z" fill="#fff"/>
<path d="M430.80,307.30 C431.58,306.65 433.38,306.25 435.00,306.30 C436.62,306.35 439.67,306.85 440.50,307.60 C441.33,308.35 441.08,310.17 440.00,310.80 C438.92,311.43 435.62,311.50 434.00,311.40 C432.38,311.30 430.83,310.88 430.30,310.20 C429.77,309.52 430.02,307.95 430.80,307.30 Z" fill="none" stroke="#000" stroke-width="1.0"/>
<clipPath id="cl3"><path d="M451.9,300.3 a3.4,3.4 0 1,0 0.01,0 Z"/></clipPath>
<path d="M451.9,300.3 a3.4,3.4 0 1,0 0.01,0 Z" fill="none" stroke="#444" stroke-width="2.5" filter="url(#bl)"/>
<path d="M451.9,300.3 a3.4,3.4 0 1,0 0.01,0 Z" fill="#8a8a8a"/>
<g clip-path="url(#cl3)"><path d="M451.9,300.3 a3.4,3.4 0 1,0 0.01,0 Z" fill="none" stroke="#ddd" stroke-width="2.6" filter="url(#bl)"/><path d="M451.9,300.3 a3.4,3.4 0 1,0 0.01,0 Z" fill="none" stroke="#fff" stroke-width="1.4"/></g>
<path d="M451.9,300.3 a3.4,3.4 0 1,0 0.01,0 Z" fill="none" stroke="#000" stroke-width="0.9"/>
<clipPath id="cl4"><path d="M424.60,312.60 C425.35,311.77 428.10,311.77 430.00,311.60 C431.90,311.43 433.98,311.55 436.00,311.60 C438.02,311.65 440.78,312.07 442.10,311.90 C443.42,311.73 442.72,310.67 443.90,310.60 C445.08,310.53 447.28,311.20 449.20,311.50 C451.12,311.80 453.18,312.22 455.40,312.40 C457.62,312.58 460.17,312.83 462.50,312.60 C464.83,312.37 467.40,311.60 469.40,311.00 C471.40,310.40 472.90,309.43 474.50,309.00 C476.10,308.57 477.52,307.87 479.00,308.40 C480.48,308.93 482.20,311.03 483.40,312.20 C484.60,313.37 486.43,314.53 486.20,315.40 C485.97,316.27 484.70,317.10 482.00,317.40 C479.30,317.70 474.50,317.27 470.00,317.20 C465.50,317.13 460.00,317.03 455.00,317.00 C450.00,316.97 443.83,316.97 440.00,317.00 C436.17,317.03 434.42,317.27 432.00,317.20 C429.58,317.13 426.73,317.37 425.50,316.60 C424.27,315.83 423.85,313.43 424.60,312.60 Z"/></clipPath>
<path d="M424.60,312.60 C425.35,311.77 428.10,311.77 430.00,311.60 C431.90,311.43 433.98,311.55 436.00,311.60 C438.02,311.65 440.78,312.07 442.10,311.90 C443.42,311.73 442.72,310.67 443.90,310.60 C445.08,310.53 447.28,311.20 449.20,311.50 C451.12,311.80 453.18,312.22 455.40,312.40 C457.62,312.58 460.17,312.83 462.50,312.60 C464.83,312.37 467.40,311.60 469.40,311.00 C471.40,310.40 472.90,309.43 474.50,309.00 C476.10,308.57 477.52,307.87 479.00,308.40 C480.48,308.93 482.20,311.03 483.40,312.20 C484.60,313.37 486.43,314.53 486.20,315.40 C485.97,316.27 484.70,317.10 482.00,317.40 C479.30,317.70 474.50,317.27 470.00,317.20 C465.50,317.13 460.00,317.03 455.00,317.00 C450.00,316.97 443.83,316.97 440.00,317.00 C436.17,317.03 434.42,317.27 432.00,317.20 C429.58,317.13 426.73,317.37 425.50,316.60 C424.27,315.83 423.85,313.43 424.60,312.60 Z" fill="none" stroke="#444" stroke-width="2.2" filter="url(#bl)"/>
<path d="M424.60,312.60 C425.35,311.77 428.10,311.77 430.00,311.60 C431.90,311.43 433.98,311.55 436.00,311.60 C438.02,311.65 440.78,312.07 442.10,311.90 C443.42,311.73 442.72,310.67 443.90,310.60 C445.08,310.53 447.28,311.20 449.20,311.50 C451.12,311.80 453.18,312.22 455.40,312.40 C457.62,312.58 460.17,312.83 462.50,312.60 C464.83,312.37 467.40,311.60 469.40,311.00 C471.40,310.40 472.90,309.43 474.50,309.00 C476.10,308.57 477.52,307.87 479.00,308.40 C480.48,308.93 482.20,311.03 483.40,312.20 C484.60,313.37 486.43,314.53 486.20,315.40 C485.97,316.27 484.70,317.10 482.00,317.40 C479.30,317.70 474.50,317.27 470.00,317.20 C465.50,317.13 460.00,317.03 455.00,317.00 C450.00,316.97 443.83,316.97 440.00,317.00 C436.17,317.03 434.42,317.27 432.00,317.20 C429.58,317.13 426.73,317.37 425.50,316.60 C424.27,315.83 423.85,313.43 424.60,312.60 Z" fill="#9c9c9c"/>
<g clip-path="url(#cl4)"><path d="M424.60,312.60 C425.35,311.77 428.10,311.77 430.00,311.60 C431.90,311.43 433.98,311.55 436.00,311.60 C438.02,311.65 440.78,312.07 442.10,311.90 C443.42,311.73 442.72,310.67 443.90,310.60 C445.08,310.53 447.28,311.20 449.20,311.50 C451.12,311.80 453.18,312.22 455.40,312.40 C457.62,312.58 460.17,312.83 462.50,312.60 C464.83,312.37 467.40,311.60 469.40,311.00 C471.40,310.40 472.90,309.43 474.50,309.00 C476.10,308.57 477.52,307.87 479.00,308.40 C480.48,308.93 482.20,311.03 483.40,312.20 C484.60,313.37 486.43,314.53 486.20,315.40 C485.97,316.27 484.70,317.10 482.00,317.40 C479.30,317.70 474.50,317.27 470.00,317.20 C465.50,317.13 460.00,317.03 455.00,317.00 C450.00,316.97 443.83,316.97 440.00,317.00 C436.17,317.03 434.42,317.27 432.00,317.20 C429.58,317.13 426.73,317.37 425.50,316.60 C424.27,315.83 423.85,313.43 424.60,312.60 Z" fill="none" stroke="#d4d4d4" stroke-width="3.0" filter="url(#bl)"/><path d="M424.60,312.60 C425.35,311.77 428.10,311.77 430.00,311.60 C431.90,311.43 433.98,311.55 436.00,311.60 C438.02,311.65 440.78,312.07 442.10,311.90 C443.42,311.73 442.72,310.67 443.90,310.60 C445.08,310.53 447.28,311.20 449.20,311.50 C451.12,311.80 453.18,312.22 455.40,312.40 C457.62,312.58 460.17,312.83 462.50,312.60 C464.83,312.37 467.40,311.60 469.40,311.00 C471.40,310.40 472.90,309.43 474.50,309.00 C476.10,308.57 477.52,307.87 479.00,308.40 C480.48,308.93 482.20,311.03 483.40,312.20 C484.60,313.37 486.43,314.53 486.20,315.40 C485.97,316.27 484.70,317.10 482.00,317.40 C479.30,317.70 474.50,317.27 470.00,317.20 C465.50,317.13 460.00,317.03 455.00,317.00 C450.00,316.97 443.83,316.97 440.00,317.00 C436.17,317.03 434.42,317.27 432.00,317.20 C429.58,317.13 426.73,317.37 425.50,316.60 C424.27,315.83 423.85,313.43 424.60,312.60 Z" fill="none" stroke="#fff" stroke-width="1.0"/></g>
<path d="M424.60,312.60 C425.35,311.77 428.10,311.77 430.00,311.60 C431.90,311.43 433.98,311.55 436.00,311.60 C438.02,311.65 440.78,312.07 442.10,311.90 C443.42,311.73 442.72,310.67 443.90,310.60 C445.08,310.53 447.28,311.20 449.20,311.50 C451.12,311.80 453.18,312.22 455.40,312.40 C457.62,312.58 460.17,312.83 462.50,312.60 C464.83,312.37 467.40,311.60 469.40,311.00 C471.40,310.40 472.90,309.43 474.50,309.00 C476.10,308.57 477.52,307.87 479.00,308.40 C480.48,308.93 482.20,311.03 483.40,312.20 C484.60,313.37 486.43,314.53 486.20,315.40 C485.97,316.27 484.70,317.10 482.00,317.40 C479.30,317.70 474.50,317.27 470.00,317.20 C465.50,317.13 460.00,317.03 455.00,317.00 C450.00,316.97 443.83,316.97 440.00,317.00 C436.17,317.03 434.42,317.27 432.00,317.20 C429.58,317.13 426.73,317.37 425.50,316.60 C424.27,315.83 423.85,313.43 424.60,312.60 Z" fill="none" stroke="#000" stroke-width="1.1"/>
<ellipse cx="477" cy="311.6" rx="5" ry="2.4" fill="#222" filter="url(#bl)"/>
<clipPath id="cl5"><path d="M464.20,315.00 C464.83,314.60 466.45,313.77 468.00,313.60 C469.55,313.43 472.67,313.53 473.50,314.00 C474.33,314.47 473.92,315.97 473.00,316.40 C472.08,316.83 469.47,316.67 468.00,316.60 C466.53,316.53 464.83,316.27 464.20,316.00 C463.57,315.73 463.57,315.40 464.20,315.00 Z"/></clipPath>
<path d="M464.20,315.00 C464.83,314.60 466.45,313.77 468.00,313.60 C469.55,313.43 472.67,313.53 473.50,314.00 C474.33,314.47 473.92,315.97 473.00,316.40 C472.08,316.83 469.47,316.67 468.00,316.60 C466.53,316.53 464.83,316.27 464.20,316.00 C463.57,315.73 463.57,315.40 464.20,315.00 Z" fill="#fff"/>
<path d="M464.20,315.00 C464.83,314.60 466.45,313.77 468.00,313.60 C469.55,313.43 472.67,313.53 473.50,314.00 C474.33,314.47 473.92,315.97 473.00,316.40 C472.08,316.83 469.47,316.67 468.00,316.60 C466.53,316.53 464.83,316.27 464.20,316.00 C463.57,315.73 463.57,315.40 464.20,315.00 Z" fill="none" stroke="#000" stroke-width="0.6"/>
<clipPath id="cl6"><path d="M429.1,313.1 a2,2 0 1,0 0.01,0 Z"/></clipPath>
<path d="M429.1,313.1 a2,2 0 1,0 0.01,0 Z" fill="#aaa"/>
<g clip-path="url(#cl6)"><path d="M429.1,313.1 a2,2 0 1,0 0.01,0 Z" fill="none" stroke="#ddd" stroke-width="1.6" filter="url(#bl)"/><path d="M429.1,313.1 a2,2 0 1,0 0.01,0 Z" fill="none" stroke="#fff" stroke-width="0.8"/></g>
<path d="M429.1,313.1 a2,2 0 1,0 0.01,0 Z" fill="none" stroke="#000" stroke-width="0.8"/>
<ellipse cx="431.9" cy="292" rx="2.6" ry="3.4" fill="#fff" stroke="#000" stroke-width="1.4"/>
<path d="M423.4,305.4 L428,306.6 L425.8,310.2 Z" fill="#000"/>
<clipPath id="cl7"><path d="M447.60,255.70 C450.00,255.28 452.83,256.10 455.40,256.50 C457.97,256.90 460.85,257.52 463.00,258.10 C465.15,258.68 467.30,259.20 468.30,260.00 C469.30,260.80 469.17,261.78 469.00,262.90 C468.83,264.02 467.73,265.43 467.30,266.70 C466.87,267.97 466.55,269.15 466.40,270.50 C466.25,271.85 466.72,273.45 466.40,274.80 C466.08,276.15 465.38,277.65 464.50,278.60 C463.62,279.55 462.45,280.03 461.10,280.50 C459.75,280.97 457.98,281.17 456.40,281.40 C454.82,281.63 453.25,281.98 451.60,281.90 C449.95,281.82 448.12,281.45 446.50,280.90 C444.88,280.35 443.15,279.35 441.90,278.60 C440.65,277.85 440.03,276.97 439.00,276.40 C437.97,275.83 436.48,275.78 435.70,275.20 C434.92,274.62 434.62,273.93 434.30,272.90 C433.98,271.87 433.80,270.28 433.80,269.00 C433.80,267.72 433.90,266.38 434.30,265.20 C434.70,264.02 435.08,262.93 436.20,261.90 C437.32,260.87 439.10,260.03 441.00,259.00 C442.90,257.97 445.20,256.12 447.60,255.70 Z"/></clipPath>
<path d="M447.60,255.70 C450.00,255.28 452.83,256.10 455.40,256.50 C457.97,256.90 460.85,257.52 463.00,258.10 C465.15,258.68 467.30,259.20 468.30,260.00 C469.30,260.80 469.17,261.78 469.00,262.90 C468.83,264.02 467.73,265.43 467.30,266.70 C466.87,267.97 466.55,269.15 466.40,270.50 C466.25,271.85 466.72,273.45 466.40,274.80 C466.08,276.15 465.38,277.65 464.50,278.60 C463.62,279.55 462.45,280.03 461.10,280.50 C459.75,280.97 457.98,281.17 456.40,281.40 C454.82,281.63 453.25,281.98 451.60,281.90 C449.95,281.82 448.12,281.45 446.50,280.90 C444.88,280.35 443.15,279.35 441.90,278.60 C440.65,277.85 440.03,276.97 439.00,276.40 C437.97,275.83 436.48,275.78 435.70,275.20 C434.92,274.62 434.62,273.93 434.30,272.90 C433.98,271.87 433.80,270.28 433.80,269.00 C433.80,267.72 433.90,266.38 434.30,265.20 C434.70,264.02 435.08,262.93 436.20,261.90 C437.32,260.87 439.10,260.03 441.00,259.00 C442.90,257.97 445.20,256.12 447.60,255.70 Z" fill="none" stroke="#2a2a2a" stroke-width="2.6" filter="url(#bl)"/>
<path d="M447.60,255.70 C450.00,255.28 452.83,256.10 455.40,256.50 C457.97,256.90 460.85,257.52 463.00,258.10 C465.15,258.68 467.30,259.20 468.30,260.00 C469.30,260.80 469.17,261.78 469.00,262.90 C468.83,264.02 467.73,265.43 467.30,266.70 C466.87,267.97 466.55,269.15 466.40,270.50 C466.25,271.85 466.72,273.45 466.40,274.80 C466.08,276.15 465.38,277.65 464.50,278.60 C463.62,279.55 462.45,280.03 461.10,280.50 C459.75,280.97 457.98,281.17 456.40,281.40 C454.82,281.63 453.25,281.98 451.60,281.90 C449.95,281.82 448.12,281.45 446.50,280.90 C444.88,280.35 443.15,279.35 441.90,278.60 C440.65,277.85 440.03,276.97 439.00,276.40 C437.97,275.83 436.48,275.78 435.70,275.20 C434.92,274.62 434.62,273.93 434.30,272.90 C433.98,271.87 433.80,270.28 433.80,269.00 C433.80,267.72 433.90,266.38 434.30,265.20 C434.70,264.02 435.08,262.93 436.20,261.90 C437.32,260.87 439.10,260.03 441.00,259.00 C442.90,257.97 445.20,256.12 447.60,255.70 Z" fill="#6e6e6e"/>
<g clip-path="url(#cl7)"><path d="M447.60,255.70 C450.00,255.28 452.83,256.10 455.40,256.50 C457.97,256.90 460.85,257.52 463.00,258.10 C465.15,258.68 467.30,259.20 468.30,260.00 C469.30,260.80 469.17,261.78 469.00,262.90 C468.83,264.02 467.73,265.43 467.30,266.70 C466.87,267.97 466.55,269.15 466.40,270.50 C466.25,271.85 466.72,273.45 466.40,274.80 C466.08,276.15 465.38,277.65 464.50,278.60 C463.62,279.55 462.45,280.03 461.10,280.50 C459.75,280.97 457.98,281.17 456.40,281.40 C454.82,281.63 453.25,281.98 451.60,281.90 C449.95,281.82 448.12,281.45 446.50,280.90 C444.88,280.35 443.15,279.35 441.90,278.60 C440.65,277.85 440.03,276.97 439.00,276.40 C437.97,275.83 436.48,275.78 435.70,275.20 C434.92,274.62 434.62,273.93 434.30,272.90 C433.98,271.87 433.80,270.28 433.80,269.00 C433.80,267.72 433.90,266.38 434.30,265.20 C434.70,264.02 435.08,262.93 436.20,261.90 C437.32,260.87 439.10,260.03 441.00,259.00 C442.90,257.97 445.20,256.12 447.60,255.70 Z" fill="none" stroke="#c8c8c8" stroke-width="3.0" filter="url(#bl)"/><path d="M447.60,255.70 C450.00,255.28 452.83,256.10 455.40,256.50 C457.97,256.90 460.85,257.52 463.00,258.10 C465.15,258.68 467.30,259.20 468.30,260.00 C469.30,260.80 469.17,261.78 469.00,262.90 C468.83,264.02 467.73,265.43 467.30,266.70 C466.87,267.97 466.55,269.15 466.40,270.50 C466.25,271.85 466.72,273.45 466.40,274.80 C466.08,276.15 465.38,277.65 464.50,278.60 C463.62,279.55 462.45,280.03 461.10,280.50 C459.75,280.97 457.98,281.17 456.40,281.40 C454.82,281.63 453.25,281.98 451.60,281.90 C449.95,281.82 448.12,281.45 446.50,280.90 C444.88,280.35 443.15,279.35 441.90,278.60 C440.65,277.85 440.03,276.97 439.00,276.40 C437.97,275.83 436.48,275.78 435.70,275.20 C434.92,274.62 434.62,273.93 434.30,272.90 C433.98,271.87 433.80,270.28 433.80,269.00 C433.80,267.72 433.90,266.38 434.30,265.20 C434.70,264.02 435.08,262.93 436.20,261.90 C437.32,260.87 439.10,260.03 441.00,259.00 C442.90,257.97 445.20,256.12 447.60,255.70 Z" fill="none" stroke="#fff" stroke-width="1.5"/></g>
<path d="M447.60,255.70 C450.00,255.28 452.83,256.10 455.40,256.50 C457.97,256.90 460.85,257.52 463.00,258.10 C465.15,258.68 467.30,259.20 468.30,260.00 C469.30,260.80 469.17,261.78 469.00,262.90 C468.83,264.02 467.73,265.43 467.30,266.70 C466.87,267.97 466.55,269.15 466.40,270.50 C466.25,271.85 466.72,273.45 466.40,274.80 C466.08,276.15 465.38,277.65 464.50,278.60 C463.62,279.55 462.45,280.03 461.10,280.50 C459.75,280.97 457.98,281.17 456.40,281.40 C454.82,281.63 453.25,281.98 451.60,281.90 C449.95,281.82 448.12,281.45 446.50,280.90 C444.88,280.35 443.15,279.35 441.90,278.60 C440.65,277.85 440.03,276.97 439.00,276.40 C437.97,275.83 436.48,275.78 435.70,275.20 C434.92,274.62 434.62,273.93 434.30,272.90 C433.98,271.87 433.80,270.28 433.80,269.00 C433.80,267.72 433.90,266.38 434.30,265.20 C434.70,264.02 435.08,262.93 436.20,261.90 C437.32,260.87 439.10,260.03 441.00,259.00 C442.90,257.97 445.20,256.12 447.60,255.70 Z" fill="none" stroke="#000" stroke-width="1.0"/>
<clipPath id="cl8"><path d="M447.60,258.10 C449.70,257.77 452.25,258.63 454.50,259.00 C456.75,259.37 459.28,259.82 461.10,260.30 C462.92,260.78 464.60,261.23 465.40,261.90 C466.20,262.57 466.10,263.43 465.90,264.30 C465.70,265.17 464.68,265.98 464.20,267.10 C463.72,268.22 463.27,269.80 463.00,271.00 C462.73,272.20 463.07,273.28 462.60,274.30 C462.13,275.32 461.40,276.38 460.20,277.10 C459.00,277.82 457.15,278.43 455.40,278.60 C453.65,278.77 451.28,278.35 449.70,278.10 C448.12,277.85 446.88,277.50 445.90,277.10 C444.92,276.70 444.78,276.25 443.80,275.70 C442.82,275.15 441.03,274.52 440.00,273.80 C438.97,273.08 438.08,272.35 437.60,271.40 C437.12,270.45 437.02,269.28 437.10,268.10 C437.18,266.92 437.30,265.48 438.10,264.30 C438.90,263.12 440.32,262.03 441.90,261.00 C443.48,259.97 445.50,258.43 447.60,258.10 Z"/></clipPath>
<path d="M447.60,258.10 C449.70,257.77 452.25,258.63 454.50,259.00 C456.75,259.37 459.28,259.82 461.10,260.30 C462.92,260.78 464.60,261.23 465.40,261.90 C466.20,262.57 466.10,263.43 465.90,264.30 C465.70,265.17 464.68,265.98 464.20,267.10 C463.72,268.22 463.27,269.80 463.00,271.00 C462.73,272.20 463.07,273.28 462.60,274.30 C462.13,275.32 461.40,276.38 460.20,277.10 C459.00,277.82 457.15,278.43 455.40,278.60 C453.65,278.77 451.28,278.35 449.70,278.10 C448.12,277.85 446.88,277.50 445.90,277.10 C444.92,276.70 444.78,276.25 443.80,275.70 C442.82,275.15 441.03,274.52 440.00,273.80 C438.97,273.08 438.08,272.35 437.60,271.40 C437.12,270.45 437.02,269.28 437.10,268.10 C437.18,266.92 437.30,265.48 438.10,264.30 C438.90,263.12 440.32,262.03 441.90,261.00 C443.48,259.97 445.50,258.43 447.60,258.10 Z" fill="none" stroke="#2a2a2a" stroke-width="2.4" filter="url(#bl)"/>
<path d="M447.60,258.10 C449.70,257.77 452.25,258.63 454.50,259.00 C456.75,259.37 459.28,259.82 461.10,260.30 C462.92,260.78 464.60,261.23 465.40,261.90 C466.20,262.57 466.10,263.43 465.90,264.30 C465.70,265.17 464.68,265.98 464.20,267.10 C463.72,268.22 463.27,269.80 463.00,271.00 C462.73,272.20 463.07,273.28 462.60,274.30 C462.13,275.32 461.40,276.38 460.20,277.10 C459.00,277.82 457.15,278.43 455.40,278.60 C453.65,278.77 451.28,278.35 449.70,278.10 C448.12,277.85 446.88,277.50 445.90,277.10 C444.92,276.70 444.78,276.25 443.80,275.70 C442.82,275.15 441.03,274.52 440.00,273.80 C438.97,273.08 438.08,272.35 437.60,271.40 C437.12,270.45 437.02,269.28 437.10,268.10 C437.18,266.92 437.30,265.48 438.10,264.30 C438.90,263.12 440.32,262.03 441.90,261.00 C443.48,259.97 445.50,258.43 447.60,258.10 Z" fill="#6a6a6a"/>
<g clip-path="url(#cl8)"><path d="M447.60,258.10 C449.70,257.77 452.25,258.63 454.50,259.00 C456.75,259.37 459.28,259.82 461.10,260.30 C462.92,260.78 464.60,261.23 465.40,261.90 C466.20,262.57 466.10,263.43 465.90,264.30 C465.70,265.17 464.68,265.98 464.20,267.10 C463.72,268.22 463.27,269.80 463.00,271.00 C462.73,272.20 463.07,273.28 462.60,274.30 C462.13,275.32 461.40,276.38 460.20,277.10 C459.00,277.82 457.15,278.43 455.40,278.60 C453.65,278.77 451.28,278.35 449.70,278.10 C448.12,277.85 446.88,277.50 445.90,277.10 C444.92,276.70 444.78,276.25 443.80,275.70 C442.82,275.15 441.03,274.52 440.00,273.80 C438.97,273.08 438.08,272.35 437.60,271.40 C437.12,270.45 437.02,269.28 437.10,268.10 C437.18,266.92 437.30,265.48 438.10,264.30 C438.90,263.12 440.32,262.03 441.90,261.00 C443.48,259.97 445.50,258.43 447.60,258.10 Z" fill="none" stroke="#c8c8c8" stroke-width="3.6" filter="url(#bl)"/><path d="M447.60,258.10 C449.70,257.77 452.25,258.63 454.50,259.00 C456.75,259.37 459.28,259.82 461.10,260.30 C462.92,260.78 464.60,261.23 465.40,261.90 C466.20,262.57 466.10,263.43 465.90,264.30 C465.70,265.17 464.68,265.98 464.20,267.10 C463.72,268.22 463.27,269.80 463.00,271.00 C462.73,272.20 463.07,273.28 462.60,274.30 C462.13,275.32 461.40,276.38 460.20,277.10 C459.00,277.82 457.15,278.43 455.40,278.60 C453.65,278.77 451.28,278.35 449.70,278.10 C448.12,277.85 446.88,277.50 445.90,277.10 C444.92,276.70 444.78,276.25 443.80,275.70 C442.82,275.15 441.03,274.52 440.00,273.80 C438.97,273.08 438.08,272.35 437.60,271.40 C437.12,270.45 437.02,269.28 437.10,268.10 C437.18,266.92 437.30,265.48 438.10,264.30 C438.90,263.12 440.32,262.03 441.90,261.00 C443.48,259.97 445.50,258.43 447.60,258.10 Z" fill="none" stroke="#fff" stroke-width="1.6"/></g>
<path d="M447.60,258.10 C449.70,257.77 452.25,258.63 454.50,259.00 C456.75,259.37 459.28,259.82 461.10,260.30 C462.92,260.78 464.60,261.23 465.40,261.90 C466.20,262.57 466.10,263.43 465.90,264.30 C465.70,265.17 464.68,265.98 464.20,267.10 C463.72,268.22 463.27,269.80 463.00,271.00 C462.73,272.20 463.07,273.28 462.60,274.30 C462.13,275.32 461.40,276.38 460.20,277.10 C459.00,277.82 457.15,278.43 455.40,278.60 C453.65,278.77 451.28,278.35 449.70,278.10 C448.12,277.85 446.88,277.50 445.90,277.10 C444.92,276.70 444.78,276.25 443.80,275.70 C442.82,275.15 441.03,274.52 440.00,273.80 C438.97,273.08 438.08,272.35 437.60,271.40 C437.12,270.45 437.02,269.28 437.10,268.10 C437.18,266.92 437.30,265.48 438.10,264.30 C438.90,263.12 440.32,262.03 441.90,261.00 C443.48,259.97 445.50,258.43 447.60,258.10 Z" fill="none" stroke="#000" stroke-width="1.0"/>
<clipPath id="cl9"><path d="M445.00,265.70 C445.47,264.90 446.20,263.70 447.30,263.30 C448.40,262.90 450.25,263.13 451.60,263.30 C452.95,263.47 454.28,263.90 455.40,264.30 C456.52,264.70 457.70,264.92 458.30,265.70 C458.90,266.48 459.08,267.97 459.00,269.00 C458.92,270.03 458.55,271.02 457.80,271.90 C457.05,272.78 455.62,273.82 454.50,274.30 C453.38,274.78 452.30,274.88 451.10,274.80 C449.90,274.72 448.25,274.43 447.30,273.80 C446.35,273.17 445.87,271.95 445.40,271.00 C444.93,270.05 444.57,268.98 444.50,268.10 C444.43,267.22 444.53,266.50 445.00,265.70 Z"/></clipPath>
<path d="M445.00,265.70 C445.47,264.90 446.20,263.70 447.30,263.30 C448.40,262.90 450.25,263.13 451.60,263.30 C452.95,263.47 454.28,263.90 455.40,264.30 C456.52,264.70 457.70,264.92 458.30,265.70 C458.90,266.48 459.08,267.97 459.00,269.00 C458.92,270.03 458.55,271.02 457.80,271.90 C457.05,272.78 455.62,273.82 454.50,274.30 C453.38,274.78 452.30,274.88 451.10,274.80 C449.90,274.72 448.25,274.43 447.30,273.80 C446.35,273.17 445.87,271.95 445.40,271.00 C444.93,270.05 444.57,268.98 444.50,268.10 C444.43,267.22 444.53,266.50 445.00,265.70 Z" fill="none" stroke="#2a2a2a" stroke-width="2.4" filter="url(#bl)"/>
<path d="M445.00,265.70 C445.47,264.90 446.20,263.70 447.30,263.30 C448.40,262.90 450.25,263.13 451.60,263.30 C452.95,263.47 454.28,263.90 455.40,264.30 C456.52,264.70 457.70,264.92 458.30,265.70 C458.90,266.48 459.08,267.97 459.00,269.00 C458.92,270.03 458.55,271.02 457.80,271.90 C457.05,272.78 455.62,273.82 454.50,274.30 C453.38,274.78 452.30,274.88 451.10,274.80 C449.90,274.72 448.25,274.43 447.30,273.80 C446.35,273.17 445.87,271.95 445.40,271.00 C444.93,270.05 444.57,268.98 444.50,268.10 C444.43,267.22 444.53,266.50 445.00,265.70 Z" fill="#5e5e5e"/>
<g clip-path="url(#cl9)"><path d="M445.00,265.70 C445.47,264.90 446.20,263.70 447.30,263.30 C448.40,262.90 450.25,263.13 451.60,263.30 C452.95,263.47 454.28,263.90 455.40,264.30 C456.52,264.70 457.70,264.92 458.30,265.70 C458.90,266.48 459.08,267.97 459.00,269.00 C458.92,270.03 458.55,271.02 457.80,271.90 C457.05,272.78 455.62,273.82 454.50,274.30 C453.38,274.78 452.30,274.88 451.10,274.80 C449.90,274.72 448.25,274.43 447.30,273.80 C446.35,273.17 445.87,271.95 445.40,271.00 C444.93,270.05 444.57,268.98 444.50,268.10 C444.43,267.22 444.53,266.50 445.00,265.70 Z" fill="none" stroke="#cfcfcf" stroke-width="4.0" filter="url(#bl)"/><path d="M445.00,265.70 C445.47,264.90 446.20,263.70 447.30,263.30 C448.40,262.90 450.25,263.13 451.60,263.30 C452.95,263.47 454.28,263.90 455.40,264.30 C456.52,264.70 457.70,264.92 458.30,265.70 C458.90,266.48 459.08,267.97 459.00,269.00 C458.92,270.03 458.55,271.02 457.80,271.90 C457.05,272.78 455.62,273.82 454.50,274.30 C453.38,274.78 452.30,274.88 451.10,274.80 C449.90,274.72 448.25,274.43 447.30,273.80 C446.35,273.17 445.87,271.95 445.40,271.00 C444.93,270.05 444.57,268.98 444.50,268.10 C444.43,267.22 444.53,266.50 445.00,265.70 Z" fill="none" stroke="#fff" stroke-width="1.8"/></g>
<path d="M445.00,265.70 C445.47,264.90 446.20,263.70 447.30,263.30 C448.40,262.90 450.25,263.13 451.60,263.30 C452.95,263.47 454.28,263.90 455.40,264.30 C456.52,264.70 457.70,264.92 458.30,265.70 C458.90,266.48 459.08,267.97 459.00,269.00 C458.92,270.03 458.55,271.02 457.80,271.90 C457.05,272.78 455.62,273.82 454.50,274.30 C453.38,274.78 452.30,274.88 451.10,274.80 C449.90,274.72 448.25,274.43 447.30,273.80 C446.35,273.17 445.87,271.95 445.40,271.00 C444.93,270.05 444.57,268.98 444.50,268.10 C444.43,267.22 444.53,266.50 445.00,265.70 Z" fill="none" stroke="#000" stroke-width="1.0"/>
<ellipse cx="452.5" cy="269.8" rx="3.8" ry="2.8" fill="#383838" filter="url(#bl2)"/>
<circle cx="464" cy="262.4" r="0.9" fill="#fff"/>
<circle cx="437.1" cy="277.6" r="1.2" fill="#fff" stroke="#000" stroke-width="0.6"/>
<text x="63" y="245.6" font-size="6" text-anchor="middle" font-weight="normal" fill="#1a1a1a" style="stroke:none">hCD45</text>
<text x="63" y="252.0" font-size="6" text-anchor="middle" font-weight="normal" fill="#1a1a1a" style="stroke:none">16.2</text>
<rect x="257.5" y="237.1" width="53.7" height="67.3" fill="none" stroke="#777" stroke-width="1.1"/>
<text x="235" y="245.6" font-size="6" text-anchor="middle" font-weight="normal" fill="#1a1a1a" style="stroke:none">hCD45</text>
<text x="234.5" y="252.0" font-size="6" text-anchor="middle" font-weight="normal" fill="#1a1a1a" textLength="13.2" lengthAdjust="spacingAndGlyphs" style="stroke:none">0.041</text>
<rect x="418.9" y="251.0" width="54.8" height="33.2" fill="none" stroke="#7e7e7e" stroke-width="1.4"/>
<text x="430.5" y="236.0" font-size="6" text-anchor="middle" font-weight="normal" fill="#1a1a1a" style="stroke:none">CD34</text>
<text x="430.7" y="242.5" font-size="6" text-anchor="middle" font-weight="normal" fill="#1a1a1a" style="stroke:none">64.7</text>
<text x="490.0" y="283.2" font-size="6" text-anchor="middle" font-weight="normal" fill="#1a1a1a" style="stroke:none">PDCs</text>
<text x="490.0" y="289.9" font-size="6" text-anchor="middle" font-weight="normal" fill="#1a1a1a" style="stroke:none">11.9</text>
<ellipse cx="475.5" cy="313.8" rx="13.3" ry="20.7" fill="none" stroke="#111" stroke-width="1"/>
</svg></body></html>
